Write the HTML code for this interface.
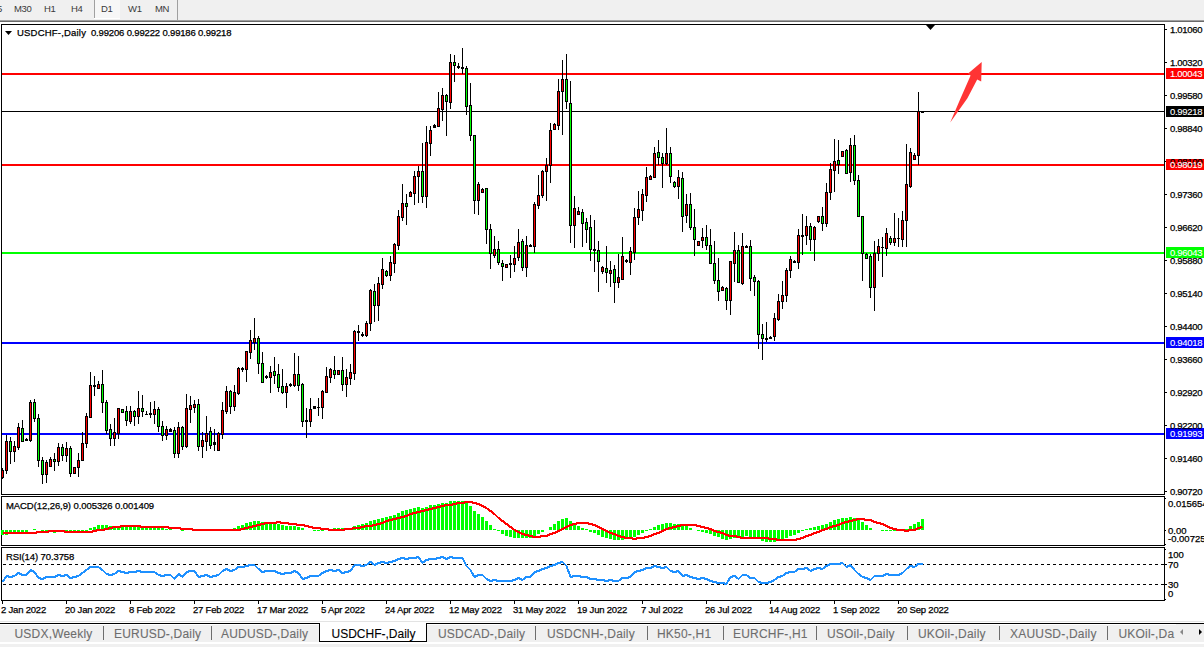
<!DOCTYPE html><html><head><meta charset="utf-8"><style>
html,body{margin:0;padding:0;width:1204px;height:647px;overflow:hidden;background:#fff}
.t{position:absolute;white-space:pre;font-family:"Liberation Sans", sans-serif;-webkit-text-stroke:0.25px currentColor}
svg{position:absolute;left:0;top:0}
</style></head><body>
<svg width="1204" height="647" shape-rendering="crispEdges"><rect x="0" y="0" width="1204" height="20" fill="#f0f0f0"/><rect x="0" y="20" width="1204" height="1" fill="#a0a0a0"/><rect x="0" y="21" width="1204" height="1" fill="#696969"/><rect x="94" y="0" width="1" height="18" fill="#a0a0a0"/><rect x="95" y="0" width="25" height="18" fill="#f7f7f7"/><rect x="94" y="18" width="26" height="1" fill="#ffffff"/><rect x="177" y="0" width="1" height="20" fill="#a0a0a0"/><rect x="1" y="24" width="1164" height="1" fill="#000"/><rect x="1" y="494" width="1164" height="1" fill="#000"/><rect x="1" y="24" width="1" height="471" fill="#000"/><rect x="1164" y="24" width="1" height="471" fill="#000"/><rect x="1" y="496" width="1164" height="1" fill="#000"/><rect x="1" y="545" width="1164" height="1" fill="#000"/><rect x="1" y="496" width="1" height="50" fill="#000"/><rect x="1164" y="496" width="1" height="50" fill="#000"/><rect x="1" y="547" width="1164" height="1" fill="#000"/><rect x="1" y="600" width="1164" height="1" fill="#000"/><rect x="1" y="547" width="1" height="54" fill="#000"/><rect x="1164" y="547" width="1" height="54" fill="#000"/><rect x="1165" y="29" width="2" height="1" fill="#000"/><rect x="1165" y="62" width="2" height="1" fill="#000"/><rect x="1165" y="95" width="2" height="1" fill="#000"/><rect x="1165" y="128" width="2" height="1" fill="#000"/><rect x="1165" y="161" width="2" height="1" fill="#000"/><rect x="1165" y="194" width="2" height="1" fill="#000"/><rect x="1165" y="227" width="2" height="1" fill="#000"/><rect x="1165" y="260" width="2" height="1" fill="#000"/><rect x="1165" y="293" width="2" height="1" fill="#000"/><rect x="1165" y="326" width="2" height="1" fill="#000"/><rect x="1165" y="359" width="2" height="1" fill="#000"/><rect x="1165" y="392" width="2" height="1" fill="#000"/><rect x="1165" y="425" width="2" height="1" fill="#000"/><rect x="1165" y="458" width="2" height="1" fill="#000"/><rect x="1165" y="491" width="2" height="1" fill="#000"/><rect x="2" y="73" width="1162" height="2" fill="#ff0000"/><rect x="2" y="111" width="1162" height="1" fill="#000000"/><rect x="2" y="164" width="1162" height="2" fill="#ff0000"/><rect x="2" y="252" width="1162" height="2" fill="#00ff00"/><rect x="2" y="342" width="1162" height="2" fill="#0000ff"/><rect x="2" y="433" width="1162" height="2" fill="#0000ff"/><rect x="2" y="468" width="1" height="11" fill="#000"/><rect x="1" y="470" width="3" height="8" fill="#000"/><rect x="2" y="471" width="1" height="6" fill="#ff0000"/><rect x="6" y="435" width="1" height="39" fill="#000"/><rect x="5" y="441" width="3" height="30" fill="#000"/><rect x="6" y="442" width="1" height="28" fill="#ff0000"/><rect x="10" y="437" width="1" height="27" fill="#000"/><rect x="9" y="441" width="3" height="11" fill="#000"/><rect x="10" y="442" width="1" height="9" fill="#00ff00"/><rect x="14" y="441" width="1" height="21" fill="#000"/><rect x="13" y="446" width="3" height="6" fill="#000"/><rect x="14" y="447" width="1" height="4" fill="#ff0000"/><rect x="18" y="423" width="1" height="27" fill="#000"/><rect x="17" y="427" width="3" height="21" fill="#000"/><rect x="18" y="428" width="1" height="19" fill="#ff0000"/><rect x="22" y="420" width="1" height="22" fill="#000"/><rect x="21" y="428" width="3" height="14" fill="#000"/><rect x="22" y="429" width="1" height="12" fill="#00ff00"/><rect x="26" y="438" width="1" height="3" fill="#000"/><rect x="25" y="439" width="3" height="2" fill="#000"/><rect x="30" y="400" width="1" height="42" fill="#000"/><rect x="29" y="402" width="3" height="39" fill="#000"/><rect x="30" y="403" width="1" height="37" fill="#ff0000"/><rect x="34" y="399" width="1" height="23" fill="#000"/><rect x="33" y="402" width="3" height="17" fill="#000"/><rect x="34" y="403" width="1" height="15" fill="#00ff00"/><rect x="38" y="414" width="1" height="53" fill="#000"/><rect x="37" y="418" width="3" height="43" fill="#000"/><rect x="38" y="419" width="1" height="41" fill="#00ff00"/><rect x="42" y="457" width="1" height="27" fill="#000"/><rect x="41" y="460" width="3" height="15" fill="#000"/><rect x="42" y="461" width="1" height="13" fill="#00ff00"/><rect x="46" y="460" width="1" height="23" fill="#000"/><rect x="45" y="462" width="3" height="13" fill="#000"/><rect x="46" y="463" width="1" height="11" fill="#ff0000"/><rect x="50" y="457" width="1" height="10" fill="#000"/><rect x="49" y="459" width="3" height="8" fill="#000"/><rect x="50" y="460" width="1" height="6" fill="#ff0000"/><rect x="54" y="453" width="1" height="18" fill="#000"/><rect x="53" y="459" width="3" height="3" fill="#000"/><rect x="54" y="460" width="1" height="1" fill="#00ff00"/><rect x="58" y="443" width="1" height="23" fill="#000"/><rect x="57" y="447" width="3" height="15" fill="#000"/><rect x="58" y="448" width="1" height="13" fill="#ff0000"/><rect x="62" y="444" width="1" height="17" fill="#000"/><rect x="61" y="447" width="3" height="9" fill="#000"/><rect x="62" y="448" width="1" height="7" fill="#00ff00"/><rect x="66" y="442" width="1" height="20" fill="#000"/><rect x="65" y="448" width="3" height="8" fill="#000"/><rect x="66" y="449" width="1" height="6" fill="#ff0000"/><rect x="70" y="446" width="1" height="31" fill="#000"/><rect x="69" y="448" width="3" height="26" fill="#000"/><rect x="70" y="449" width="1" height="24" fill="#00ff00"/><rect x="74" y="467" width="1" height="7" fill="#000"/><rect x="73" y="467" width="3" height="7" fill="#000"/><rect x="74" y="468" width="1" height="5" fill="#ff0000"/><rect x="78" y="453" width="1" height="24" fill="#000"/><rect x="77" y="460" width="3" height="8" fill="#000"/><rect x="78" y="461" width="1" height="6" fill="#ff0000"/><rect x="82" y="432" width="1" height="29" fill="#000"/><rect x="81" y="443" width="3" height="18" fill="#000"/><rect x="82" y="444" width="1" height="16" fill="#ff0000"/><rect x="86" y="413" width="1" height="35" fill="#000"/><rect x="85" y="416" width="3" height="28" fill="#000"/><rect x="86" y="417" width="1" height="26" fill="#ff0000"/><rect x="90" y="372" width="1" height="46" fill="#000"/><rect x="89" y="385" width="3" height="33" fill="#000"/><rect x="90" y="386" width="1" height="31" fill="#ff0000"/><rect x="94" y="376" width="1" height="20" fill="#000"/><rect x="93" y="385" width="3" height="2" fill="#000"/><rect x="98" y="381" width="1" height="8" fill="#000"/><rect x="97" y="384" width="3" height="5" fill="#000"/><rect x="98" y="385" width="1" height="3" fill="#ff0000"/><rect x="102" y="370" width="1" height="43" fill="#000"/><rect x="101" y="384" width="3" height="19" fill="#000"/><rect x="102" y="385" width="1" height="17" fill="#00ff00"/><rect x="106" y="400" width="1" height="34" fill="#000"/><rect x="105" y="402" width="3" height="29" fill="#000"/><rect x="106" y="403" width="1" height="27" fill="#00ff00"/><rect x="110" y="424" width="1" height="22" fill="#000"/><rect x="109" y="429" width="3" height="10" fill="#000"/><rect x="110" y="430" width="1" height="8" fill="#00ff00"/><rect x="114" y="418" width="1" height="28" fill="#000"/><rect x="113" y="432" width="3" height="7" fill="#000"/><rect x="114" y="433" width="1" height="5" fill="#ff0000"/><rect x="118" y="408" width="1" height="31" fill="#000"/><rect x="117" y="408" width="3" height="26" fill="#000"/><rect x="118" y="409" width="1" height="24" fill="#ff0000"/><rect x="122" y="409" width="1" height="4" fill="#000"/><rect x="121" y="409" width="3" height="4" fill="#000"/><rect x="122" y="410" width="1" height="2" fill="#00ff00"/><rect x="126" y="406" width="1" height="20" fill="#000"/><rect x="125" y="411" width="3" height="10" fill="#000"/><rect x="126" y="412" width="1" height="8" fill="#00ff00"/><rect x="130" y="406" width="1" height="18" fill="#000"/><rect x="129" y="411" width="3" height="11" fill="#000"/><rect x="130" y="412" width="1" height="9" fill="#ff0000"/><rect x="134" y="410" width="1" height="16" fill="#000"/><rect x="133" y="411" width="3" height="6" fill="#000"/><rect x="134" y="412" width="1" height="4" fill="#00ff00"/><rect x="138" y="391" width="1" height="33" fill="#000"/><rect x="137" y="408" width="3" height="9" fill="#000"/><rect x="138" y="409" width="1" height="7" fill="#ff0000"/><rect x="142" y="395" width="1" height="22" fill="#000"/><rect x="141" y="408" width="3" height="4" fill="#000"/><rect x="142" y="409" width="1" height="2" fill="#00ff00"/><rect x="146" y="411" width="1" height="4" fill="#000"/><rect x="145" y="414" width="3" height="1" fill="#000"/><rect x="150" y="402" width="1" height="16" fill="#000"/><rect x="149" y="413" width="3" height="2" fill="#000"/><rect x="154" y="401" width="1" height="23" fill="#000"/><rect x="153" y="409" width="3" height="6" fill="#000"/><rect x="154" y="410" width="1" height="4" fill="#ff0000"/><rect x="158" y="407" width="1" height="25" fill="#000"/><rect x="157" y="409" width="3" height="18" fill="#000"/><rect x="158" y="410" width="1" height="16" fill="#00ff00"/><rect x="162" y="421" width="1" height="20" fill="#000"/><rect x="161" y="426" width="3" height="10" fill="#000"/><rect x="162" y="427" width="1" height="8" fill="#00ff00"/><rect x="166" y="426" width="1" height="14" fill="#000"/><rect x="165" y="429" width="3" height="7" fill="#000"/><rect x="166" y="430" width="1" height="5" fill="#ff0000"/><rect x="170" y="428" width="1" height="4" fill="#000"/><rect x="169" y="429" width="3" height="3" fill="#000"/><rect x="174" y="427" width="1" height="31" fill="#000"/><rect x="173" y="430" width="3" height="24" fill="#000"/><rect x="174" y="431" width="1" height="22" fill="#00ff00"/><rect x="178" y="422" width="1" height="36" fill="#000"/><rect x="177" y="427" width="3" height="27" fill="#000"/><rect x="178" y="428" width="1" height="25" fill="#ff0000"/><rect x="182" y="426" width="1" height="24" fill="#000"/><rect x="181" y="427" width="3" height="20" fill="#000"/><rect x="182" y="428" width="1" height="18" fill="#00ff00"/><rect x="186" y="394" width="1" height="54" fill="#000"/><rect x="185" y="408" width="3" height="39" fill="#000"/><rect x="186" y="409" width="1" height="37" fill="#ff0000"/><rect x="190" y="396" width="1" height="27" fill="#000"/><rect x="189" y="405" width="3" height="5" fill="#000"/><rect x="190" y="406" width="1" height="3" fill="#ff0000"/><rect x="194" y="400" width="1" height="13" fill="#000"/><rect x="193" y="404" width="3" height="4" fill="#000"/><rect x="194" y="405" width="1" height="2" fill="#ff0000"/><rect x="198" y="399" width="1" height="52" fill="#000"/><rect x="197" y="404" width="3" height="43" fill="#000"/><rect x="198" y="405" width="1" height="41" fill="#00ff00"/><rect x="202" y="432" width="1" height="26" fill="#000"/><rect x="201" y="440" width="3" height="7" fill="#000"/><rect x="202" y="441" width="1" height="5" fill="#ff0000"/><rect x="206" y="416" width="1" height="35" fill="#000"/><rect x="205" y="433" width="3" height="9" fill="#000"/><rect x="206" y="434" width="1" height="7" fill="#ff0000"/><rect x="210" y="427" width="1" height="22" fill="#000"/><rect x="209" y="431" width="3" height="15" fill="#000"/><rect x="210" y="432" width="1" height="13" fill="#00ff00"/><rect x="214" y="429" width="1" height="22" fill="#000"/><rect x="213" y="442" width="3" height="3" fill="#000"/><rect x="218" y="432" width="1" height="19" fill="#000"/><rect x="217" y="433" width="3" height="18" fill="#000"/><rect x="218" y="434" width="1" height="16" fill="#ff0000"/><rect x="222" y="402" width="1" height="37" fill="#000"/><rect x="221" y="410" width="3" height="25" fill="#000"/><rect x="222" y="411" width="1" height="23" fill="#ff0000"/><rect x="226" y="386" width="1" height="28" fill="#000"/><rect x="225" y="391" width="3" height="21" fill="#000"/><rect x="226" y="392" width="1" height="19" fill="#ff0000"/><rect x="230" y="390" width="1" height="24" fill="#000"/><rect x="229" y="391" width="3" height="16" fill="#000"/><rect x="230" y="392" width="1" height="14" fill="#00ff00"/><rect x="234" y="385" width="1" height="26" fill="#000"/><rect x="233" y="392" width="3" height="15" fill="#000"/><rect x="234" y="393" width="1" height="13" fill="#ff0000"/><rect x="238" y="367" width="1" height="28" fill="#000"/><rect x="237" y="368" width="3" height="26" fill="#000"/><rect x="238" y="369" width="1" height="24" fill="#ff0000"/><rect x="242" y="367" width="1" height="5" fill="#000"/><rect x="241" y="368" width="3" height="2" fill="#000"/><rect x="246" y="351" width="1" height="31" fill="#000"/><rect x="245" y="351" width="3" height="19" fill="#000"/><rect x="246" y="352" width="1" height="17" fill="#ff0000"/><rect x="250" y="330" width="1" height="29" fill="#000"/><rect x="249" y="340" width="3" height="13" fill="#000"/><rect x="250" y="341" width="1" height="11" fill="#ff0000"/><rect x="254" y="318" width="1" height="32" fill="#000"/><rect x="253" y="338" width="3" height="5" fill="#000"/><rect x="254" y="339" width="1" height="3" fill="#ff0000"/><rect x="258" y="336" width="1" height="38" fill="#000"/><rect x="257" y="338" width="3" height="26" fill="#000"/><rect x="258" y="339" width="1" height="24" fill="#00ff00"/><rect x="262" y="352" width="1" height="31" fill="#000"/><rect x="261" y="363" width="3" height="20" fill="#000"/><rect x="262" y="364" width="1" height="18" fill="#00ff00"/><rect x="266" y="375" width="1" height="4" fill="#000"/><rect x="265" y="376" width="3" height="2" fill="#000"/><rect x="270" y="366" width="1" height="27" fill="#000"/><rect x="269" y="372" width="3" height="6" fill="#000"/><rect x="270" y="373" width="1" height="4" fill="#ff0000"/><rect x="274" y="357" width="1" height="27" fill="#000"/><rect x="273" y="371" width="3" height="5" fill="#000"/><rect x="274" y="372" width="1" height="3" fill="#00ff00"/><rect x="278" y="364" width="1" height="28" fill="#000"/><rect x="277" y="374" width="3" height="14" fill="#000"/><rect x="278" y="375" width="1" height="12" fill="#00ff00"/><rect x="282" y="369" width="1" height="25" fill="#000"/><rect x="281" y="386" width="3" height="7" fill="#000"/><rect x="282" y="387" width="1" height="5" fill="#00ff00"/><rect x="286" y="383" width="1" height="25" fill="#000"/><rect x="285" y="386" width="3" height="7" fill="#000"/><rect x="286" y="387" width="1" height="5" fill="#ff0000"/><rect x="290" y="383" width="1" height="4" fill="#000"/><rect x="289" y="384" width="3" height="2" fill="#000"/><rect x="294" y="353" width="1" height="34" fill="#000"/><rect x="293" y="374" width="3" height="12" fill="#000"/><rect x="294" y="375" width="1" height="10" fill="#ff0000"/><rect x="298" y="356" width="1" height="35" fill="#000"/><rect x="297" y="374" width="3" height="12" fill="#000"/><rect x="298" y="375" width="1" height="10" fill="#00ff00"/><rect x="302" y="383" width="1" height="44" fill="#000"/><rect x="301" y="384" width="3" height="38" fill="#000"/><rect x="302" y="385" width="1" height="36" fill="#00ff00"/><rect x="306" y="408" width="1" height="30" fill="#000"/><rect x="305" y="420" width="3" height="2" fill="#000"/><rect x="310" y="398" width="1" height="29" fill="#000"/><rect x="309" y="409" width="3" height="13" fill="#000"/><rect x="310" y="410" width="1" height="11" fill="#ff0000"/><rect x="314" y="406" width="1" height="3" fill="#000"/><rect x="313" y="406" width="3" height="3" fill="#000"/><rect x="318" y="398" width="1" height="18" fill="#000"/><rect x="317" y="407" width="3" height="1" fill="#000"/><rect x="322" y="390" width="1" height="29" fill="#000"/><rect x="321" y="391" width="3" height="17" fill="#000"/><rect x="322" y="392" width="1" height="15" fill="#ff0000"/><rect x="326" y="367" width="1" height="26" fill="#000"/><rect x="325" y="376" width="3" height="17" fill="#000"/><rect x="326" y="377" width="1" height="15" fill="#ff0000"/><rect x="330" y="368" width="1" height="15" fill="#000"/><rect x="329" y="369" width="3" height="9" fill="#000"/><rect x="330" y="370" width="1" height="7" fill="#ff0000"/><rect x="334" y="356" width="1" height="23" fill="#000"/><rect x="333" y="370" width="3" height="5" fill="#000"/><rect x="334" y="371" width="1" height="3" fill="#00ff00"/><rect x="338" y="370" width="1" height="5" fill="#000"/><rect x="337" y="370" width="3" height="5" fill="#000"/><rect x="338" y="371" width="1" height="3" fill="#ff0000"/><rect x="342" y="357" width="1" height="34" fill="#000"/><rect x="341" y="370" width="3" height="15" fill="#000"/><rect x="342" y="371" width="1" height="13" fill="#00ff00"/><rect x="346" y="369" width="1" height="28" fill="#000"/><rect x="345" y="377" width="3" height="8" fill="#000"/><rect x="346" y="378" width="1" height="6" fill="#ff0000"/><rect x="350" y="364" width="1" height="21" fill="#000"/><rect x="349" y="372" width="3" height="7" fill="#000"/><rect x="350" y="373" width="1" height="5" fill="#ff0000"/><rect x="354" y="330" width="1" height="50" fill="#000"/><rect x="353" y="331" width="3" height="43" fill="#000"/><rect x="354" y="332" width="1" height="41" fill="#ff0000"/><rect x="358" y="325" width="1" height="16" fill="#000"/><rect x="357" y="331" width="3" height="2" fill="#000"/><rect x="362" y="332" width="1" height="5" fill="#000"/><rect x="361" y="334" width="3" height="2" fill="#000"/><rect x="366" y="321" width="1" height="16" fill="#000"/><rect x="365" y="323" width="3" height="13" fill="#000"/><rect x="366" y="324" width="1" height="11" fill="#ff0000"/><rect x="370" y="289" width="1" height="42" fill="#000"/><rect x="369" y="290" width="3" height="34" fill="#000"/><rect x="370" y="291" width="1" height="32" fill="#ff0000"/><rect x="374" y="284" width="1" height="38" fill="#000"/><rect x="373" y="291" width="3" height="15" fill="#000"/><rect x="374" y="292" width="1" height="13" fill="#00ff00"/><rect x="378" y="277" width="1" height="44" fill="#000"/><rect x="377" y="283" width="3" height="23" fill="#000"/><rect x="378" y="284" width="1" height="21" fill="#ff0000"/><rect x="382" y="258" width="1" height="31" fill="#000"/><rect x="381" y="269" width="3" height="16" fill="#000"/><rect x="382" y="270" width="1" height="14" fill="#ff0000"/><rect x="386" y="270" width="1" height="7" fill="#000"/><rect x="385" y="271" width="3" height="5" fill="#000"/><rect x="386" y="272" width="1" height="3" fill="#00ff00"/><rect x="390" y="256" width="1" height="25" fill="#000"/><rect x="389" y="262" width="3" height="14" fill="#000"/><rect x="390" y="263" width="1" height="12" fill="#ff0000"/><rect x="394" y="243" width="1" height="30" fill="#000"/><rect x="393" y="244" width="3" height="20" fill="#000"/><rect x="394" y="245" width="1" height="18" fill="#ff0000"/><rect x="398" y="210" width="1" height="40" fill="#000"/><rect x="397" y="216" width="3" height="30" fill="#000"/><rect x="398" y="217" width="1" height="28" fill="#ff0000"/><rect x="402" y="184" width="1" height="37" fill="#000"/><rect x="401" y="203" width="3" height="15" fill="#000"/><rect x="402" y="204" width="1" height="13" fill="#ff0000"/><rect x="406" y="194" width="1" height="31" fill="#000"/><rect x="405" y="203" width="3" height="4" fill="#000"/><rect x="406" y="204" width="1" height="2" fill="#00ff00"/><rect x="410" y="191" width="1" height="6" fill="#000"/><rect x="409" y="192" width="3" height="5" fill="#000"/><rect x="410" y="193" width="1" height="3" fill="#ff0000"/><rect x="414" y="171" width="1" height="34" fill="#000"/><rect x="413" y="176" width="3" height="18" fill="#000"/><rect x="414" y="177" width="1" height="16" fill="#ff0000"/><rect x="418" y="166" width="1" height="37" fill="#000"/><rect x="417" y="171" width="3" height="6" fill="#000"/><rect x="418" y="172" width="1" height="4" fill="#ff0000"/><rect x="422" y="143" width="1" height="60" fill="#000"/><rect x="421" y="171" width="3" height="26" fill="#000"/><rect x="422" y="172" width="1" height="24" fill="#00ff00"/><rect x="426" y="126" width="1" height="82" fill="#000"/><rect x="425" y="142" width="3" height="55" fill="#000"/><rect x="426" y="143" width="1" height="53" fill="#ff0000"/><rect x="430" y="126" width="1" height="30" fill="#000"/><rect x="429" y="130" width="3" height="14" fill="#000"/><rect x="430" y="131" width="1" height="12" fill="#ff0000"/><rect x="434" y="124" width="1" height="4" fill="#000"/><rect x="433" y="125" width="3" height="3" fill="#000"/><rect x="438" y="92" width="1" height="35" fill="#000"/><rect x="437" y="108" width="3" height="19" fill="#000"/><rect x="438" y="109" width="1" height="17" fill="#ff0000"/><rect x="442" y="88" width="1" height="33" fill="#000"/><rect x="441" y="95" width="3" height="15" fill="#000"/><rect x="442" y="96" width="1" height="13" fill="#ff0000"/><rect x="446" y="94" width="1" height="42" fill="#000"/><rect x="445" y="95" width="3" height="7" fill="#000"/><rect x="446" y="96" width="1" height="5" fill="#00ff00"/><rect x="450" y="54" width="1" height="55" fill="#000"/><rect x="449" y="62" width="3" height="41" fill="#000"/><rect x="450" y="63" width="1" height="39" fill="#ff0000"/><rect x="454" y="55" width="1" height="27" fill="#000"/><rect x="453" y="62" width="3" height="4" fill="#000"/><rect x="454" y="63" width="1" height="2" fill="#00ff00"/><rect x="458" y="63" width="1" height="6" fill="#000"/><rect x="457" y="66" width="3" height="2" fill="#000"/><rect x="462" y="48" width="1" height="26" fill="#000"/><rect x="461" y="67" width="3" height="2" fill="#000"/><rect x="466" y="66" width="1" height="49" fill="#000"/><rect x="465" y="68" width="3" height="39" fill="#000"/><rect x="466" y="69" width="1" height="37" fill="#00ff00"/><rect x="470" y="83" width="1" height="58" fill="#000"/><rect x="469" y="105" width="3" height="31" fill="#000"/><rect x="470" y="106" width="1" height="29" fill="#00ff00"/><rect x="474" y="135" width="1" height="79" fill="#000"/><rect x="473" y="135" width="3" height="66" fill="#000"/><rect x="474" y="136" width="1" height="64" fill="#00ff00"/><rect x="478" y="182" width="1" height="33" fill="#000"/><rect x="477" y="184" width="3" height="17" fill="#000"/><rect x="478" y="185" width="1" height="15" fill="#ff0000"/><rect x="482" y="188" width="1" height="5" fill="#000"/><rect x="481" y="189" width="3" height="4" fill="#000"/><rect x="482" y="190" width="1" height="2" fill="#ff0000"/><rect x="486" y="188" width="1" height="56" fill="#000"/><rect x="485" y="188" width="3" height="42" fill="#000"/><rect x="486" y="189" width="1" height="40" fill="#00ff00"/><rect x="490" y="224" width="1" height="45" fill="#000"/><rect x="489" y="229" width="3" height="25" fill="#000"/><rect x="490" y="230" width="1" height="23" fill="#00ff00"/><rect x="494" y="236" width="1" height="22" fill="#000"/><rect x="493" y="249" width="3" height="7" fill="#000"/><rect x="494" y="250" width="1" height="5" fill="#ff0000"/><rect x="498" y="241" width="1" height="24" fill="#000"/><rect x="497" y="249" width="3" height="14" fill="#000"/><rect x="498" y="250" width="1" height="12" fill="#00ff00"/><rect x="502" y="260" width="1" height="21" fill="#000"/><rect x="501" y="263" width="3" height="4" fill="#000"/><rect x="502" y="264" width="1" height="2" fill="#00ff00"/><rect x="506" y="264" width="1" height="4" fill="#000"/><rect x="505" y="264" width="3" height="4" fill="#000"/><rect x="506" y="265" width="1" height="2" fill="#ff0000"/><rect x="510" y="255" width="1" height="23" fill="#000"/><rect x="509" y="263" width="3" height="2" fill="#000"/><rect x="514" y="246" width="1" height="26" fill="#000"/><rect x="513" y="258" width="3" height="7" fill="#000"/><rect x="514" y="259" width="1" height="5" fill="#ff0000"/><rect x="518" y="229" width="1" height="32" fill="#000"/><rect x="517" y="242" width="3" height="16" fill="#000"/><rect x="518" y="243" width="1" height="14" fill="#ff0000"/><rect x="522" y="239" width="1" height="32" fill="#000"/><rect x="521" y="241" width="3" height="27" fill="#000"/><rect x="522" y="242" width="1" height="25" fill="#00ff00"/><rect x="526" y="236" width="1" height="41" fill="#000"/><rect x="525" y="245" width="3" height="23" fill="#000"/><rect x="526" y="246" width="1" height="21" fill="#ff0000"/><rect x="530" y="244" width="1" height="3" fill="#000"/><rect x="529" y="245" width="3" height="2" fill="#000"/><rect x="534" y="202" width="1" height="51" fill="#000"/><rect x="533" y="204" width="3" height="43" fill="#000"/><rect x="534" y="205" width="1" height="41" fill="#ff0000"/><rect x="538" y="175" width="1" height="34" fill="#000"/><rect x="537" y="195" width="3" height="11" fill="#000"/><rect x="538" y="196" width="1" height="9" fill="#ff0000"/><rect x="542" y="170" width="1" height="28" fill="#000"/><rect x="541" y="171" width="3" height="25" fill="#000"/><rect x="542" y="172" width="1" height="23" fill="#ff0000"/><rect x="546" y="158" width="1" height="43" fill="#000"/><rect x="545" y="165" width="3" height="7" fill="#000"/><rect x="546" y="166" width="1" height="5" fill="#ff0000"/><rect x="550" y="123" width="1" height="60" fill="#000"/><rect x="549" y="130" width="3" height="36" fill="#000"/><rect x="550" y="131" width="1" height="34" fill="#ff0000"/><rect x="554" y="123" width="1" height="7" fill="#000"/><rect x="553" y="124" width="3" height="6" fill="#000"/><rect x="554" y="125" width="1" height="4" fill="#ff0000"/><rect x="558" y="79" width="1" height="51" fill="#000"/><rect x="557" y="91" width="3" height="35" fill="#000"/><rect x="558" y="92" width="1" height="33" fill="#ff0000"/><rect x="562" y="60" width="1" height="75" fill="#000"/><rect x="561" y="79" width="3" height="13" fill="#000"/><rect x="562" y="80" width="1" height="11" fill="#ff0000"/><rect x="566" y="54" width="1" height="55" fill="#000"/><rect x="565" y="79" width="3" height="23" fill="#000"/><rect x="566" y="80" width="1" height="21" fill="#00ff00"/><rect x="570" y="81" width="1" height="162" fill="#000"/><rect x="569" y="103" width="3" height="123" fill="#000"/><rect x="570" y="104" width="1" height="121" fill="#00ff00"/><rect x="574" y="196" width="1" height="52" fill="#000"/><rect x="573" y="208" width="3" height="18" fill="#000"/><rect x="574" y="209" width="1" height="16" fill="#ff0000"/><rect x="578" y="207" width="1" height="8" fill="#000"/><rect x="577" y="211" width="3" height="4" fill="#000"/><rect x="578" y="212" width="1" height="2" fill="#ff0000"/><rect x="582" y="209" width="1" height="38" fill="#000"/><rect x="581" y="212" width="3" height="12" fill="#000"/><rect x="582" y="213" width="1" height="10" fill="#00ff00"/><rect x="586" y="218" width="1" height="25" fill="#000"/><rect x="585" y="222" width="3" height="8" fill="#000"/><rect x="586" y="223" width="1" height="6" fill="#00ff00"/><rect x="590" y="215" width="1" height="46" fill="#000"/><rect x="589" y="227" width="3" height="23" fill="#000"/><rect x="590" y="228" width="1" height="21" fill="#00ff00"/><rect x="594" y="220" width="1" height="52" fill="#000"/><rect x="593" y="249" width="3" height="2" fill="#000"/><rect x="598" y="241" width="1" height="51" fill="#000"/><rect x="597" y="250" width="3" height="12" fill="#000"/><rect x="598" y="251" width="1" height="10" fill="#00ff00"/><rect x="602" y="266" width="1" height="8" fill="#000"/><rect x="601" y="267" width="3" height="5" fill="#000"/><rect x="602" y="268" width="1" height="3" fill="#ff0000"/><rect x="606" y="246" width="1" height="37" fill="#000"/><rect x="605" y="268" width="3" height="5" fill="#000"/><rect x="606" y="269" width="1" height="3" fill="#00ff00"/><rect x="610" y="261" width="1" height="26" fill="#000"/><rect x="609" y="270" width="3" height="4" fill="#000"/><rect x="610" y="271" width="1" height="2" fill="#ff0000"/><rect x="614" y="265" width="1" height="38" fill="#000"/><rect x="613" y="269" width="3" height="14" fill="#000"/><rect x="614" y="270" width="1" height="12" fill="#00ff00"/><rect x="618" y="254" width="1" height="34" fill="#000"/><rect x="617" y="277" width="3" height="6" fill="#000"/><rect x="618" y="278" width="1" height="4" fill="#ff0000"/><rect x="622" y="237" width="1" height="43" fill="#000"/><rect x="621" y="256" width="3" height="24" fill="#000"/><rect x="622" y="257" width="1" height="22" fill="#ff0000"/><rect x="626" y="259" width="1" height="4" fill="#000"/><rect x="625" y="260" width="3" height="2" fill="#000"/><rect x="630" y="247" width="1" height="28" fill="#000"/><rect x="629" y="251" width="3" height="12" fill="#000"/><rect x="630" y="252" width="1" height="10" fill="#ff0000"/><rect x="634" y="208" width="1" height="52" fill="#000"/><rect x="633" y="217" width="3" height="36" fill="#000"/><rect x="634" y="218" width="1" height="34" fill="#ff0000"/><rect x="638" y="191" width="1" height="34" fill="#000"/><rect x="637" y="209" width="3" height="9" fill="#000"/><rect x="638" y="210" width="1" height="7" fill="#ff0000"/><rect x="642" y="189" width="1" height="32" fill="#000"/><rect x="641" y="194" width="3" height="17" fill="#000"/><rect x="642" y="195" width="1" height="15" fill="#ff0000"/><rect x="646" y="167" width="1" height="35" fill="#000"/><rect x="645" y="177" width="3" height="19" fill="#000"/><rect x="646" y="178" width="1" height="17" fill="#ff0000"/><rect x="650" y="175" width="1" height="5" fill="#000"/><rect x="649" y="176" width="3" height="4" fill="#000"/><rect x="650" y="177" width="1" height="2" fill="#ff0000"/><rect x="654" y="147" width="1" height="31" fill="#000"/><rect x="653" y="153" width="3" height="25" fill="#000"/><rect x="654" y="154" width="1" height="23" fill="#ff0000"/><rect x="658" y="140" width="1" height="25" fill="#000"/><rect x="657" y="152" width="3" height="6" fill="#000"/><rect x="658" y="153" width="1" height="4" fill="#00ff00"/><rect x="662" y="153" width="1" height="35" fill="#000"/><rect x="661" y="157" width="3" height="7" fill="#000"/><rect x="662" y="158" width="1" height="5" fill="#00ff00"/><rect x="666" y="128" width="1" height="37" fill="#000"/><rect x="665" y="153" width="3" height="11" fill="#000"/><rect x="666" y="154" width="1" height="9" fill="#ff0000"/><rect x="670" y="147" width="1" height="36" fill="#000"/><rect x="669" y="153" width="3" height="24" fill="#000"/><rect x="670" y="154" width="1" height="22" fill="#00ff00"/><rect x="674" y="181" width="1" height="7" fill="#000"/><rect x="673" y="182" width="3" height="5" fill="#000"/><rect x="674" y="183" width="1" height="3" fill="#00ff00"/><rect x="678" y="170" width="1" height="29" fill="#000"/><rect x="677" y="177" width="3" height="10" fill="#000"/><rect x="678" y="178" width="1" height="8" fill="#ff0000"/><rect x="682" y="172" width="1" height="60" fill="#000"/><rect x="681" y="178" width="3" height="39" fill="#000"/><rect x="682" y="179" width="1" height="37" fill="#00ff00"/><rect x="686" y="194" width="1" height="29" fill="#000"/><rect x="685" y="204" width="3" height="12" fill="#000"/><rect x="686" y="205" width="1" height="10" fill="#ff0000"/><rect x="690" y="193" width="1" height="37" fill="#000"/><rect x="689" y="204" width="3" height="24" fill="#000"/><rect x="690" y="205" width="1" height="22" fill="#00ff00"/><rect x="694" y="209" width="1" height="47" fill="#000"/><rect x="693" y="227" width="3" height="13" fill="#000"/><rect x="694" y="228" width="1" height="11" fill="#00ff00"/><rect x="698" y="241" width="1" height="5" fill="#000"/><rect x="697" y="241" width="3" height="5" fill="#000"/><rect x="698" y="242" width="1" height="3" fill="#ff0000"/><rect x="702" y="228" width="1" height="20" fill="#000"/><rect x="701" y="237" width="3" height="4" fill="#000"/><rect x="702" y="238" width="1" height="2" fill="#ff0000"/><rect x="706" y="225" width="1" height="25" fill="#000"/><rect x="705" y="237" width="3" height="9" fill="#000"/><rect x="706" y="238" width="1" height="7" fill="#00ff00"/><rect x="710" y="229" width="1" height="35" fill="#000"/><rect x="709" y="245" width="3" height="19" fill="#000"/><rect x="710" y="246" width="1" height="17" fill="#00ff00"/><rect x="714" y="241" width="1" height="43" fill="#000"/><rect x="713" y="263" width="3" height="18" fill="#000"/><rect x="714" y="264" width="1" height="16" fill="#00ff00"/><rect x="718" y="258" width="1" height="43" fill="#000"/><rect x="717" y="280" width="3" height="12" fill="#000"/><rect x="718" y="281" width="1" height="10" fill="#00ff00"/><rect x="722" y="286" width="1" height="5" fill="#000"/><rect x="721" y="287" width="3" height="4" fill="#000"/><rect x="722" y="288" width="1" height="2" fill="#ff0000"/><rect x="726" y="287" width="1" height="23" fill="#000"/><rect x="725" y="288" width="3" height="13" fill="#000"/><rect x="726" y="289" width="1" height="11" fill="#00ff00"/><rect x="730" y="261" width="1" height="54" fill="#000"/><rect x="729" y="261" width="3" height="40" fill="#000"/><rect x="730" y="262" width="1" height="38" fill="#ff0000"/><rect x="734" y="232" width="1" height="50" fill="#000"/><rect x="733" y="250" width="3" height="14" fill="#000"/><rect x="734" y="251" width="1" height="12" fill="#ff0000"/><rect x="738" y="245" width="1" height="38" fill="#000"/><rect x="737" y="250" width="3" height="33" fill="#000"/><rect x="738" y="251" width="1" height="31" fill="#00ff00"/><rect x="742" y="233" width="1" height="52" fill="#000"/><rect x="741" y="246" width="3" height="38" fill="#000"/><rect x="742" y="247" width="1" height="36" fill="#ff0000"/><rect x="746" y="245" width="1" height="3" fill="#000"/><rect x="745" y="246" width="3" height="2" fill="#000"/><rect x="750" y="240" width="1" height="51" fill="#000"/><rect x="749" y="246" width="3" height="33" fill="#000"/><rect x="750" y="247" width="1" height="31" fill="#00ff00"/><rect x="754" y="275" width="1" height="21" fill="#000"/><rect x="753" y="277" width="3" height="5" fill="#000"/><rect x="754" y="278" width="1" height="3" fill="#00ff00"/><rect x="758" y="280" width="1" height="69" fill="#000"/><rect x="757" y="281" width="3" height="54" fill="#000"/><rect x="758" y="282" width="1" height="52" fill="#00ff00"/><rect x="762" y="324" width="1" height="36" fill="#000"/><rect x="761" y="334" width="3" height="5" fill="#000"/><rect x="762" y="335" width="1" height="3" fill="#00ff00"/><rect x="766" y="322" width="1" height="20" fill="#000"/><rect x="765" y="338" width="3" height="2" fill="#000"/><rect x="770" y="336" width="1" height="3" fill="#000"/><rect x="769" y="337" width="3" height="2" fill="#000"/><rect x="774" y="313" width="1" height="28" fill="#000"/><rect x="773" y="318" width="3" height="19" fill="#000"/><rect x="774" y="319" width="1" height="17" fill="#ff0000"/><rect x="778" y="294" width="1" height="27" fill="#000"/><rect x="777" y="301" width="3" height="19" fill="#000"/><rect x="778" y="302" width="1" height="17" fill="#ff0000"/><rect x="782" y="281" width="1" height="28" fill="#000"/><rect x="781" y="295" width="3" height="7" fill="#000"/><rect x="782" y="296" width="1" height="5" fill="#ff0000"/><rect x="786" y="268" width="1" height="34" fill="#000"/><rect x="785" y="270" width="3" height="26" fill="#000"/><rect x="786" y="271" width="1" height="24" fill="#ff0000"/><rect x="790" y="256" width="1" height="22" fill="#000"/><rect x="789" y="259" width="3" height="12" fill="#000"/><rect x="790" y="260" width="1" height="10" fill="#ff0000"/><rect x="794" y="260" width="1" height="3" fill="#000"/><rect x="793" y="261" width="3" height="2" fill="#000"/><rect x="798" y="229" width="1" height="40" fill="#000"/><rect x="797" y="235" width="3" height="28" fill="#000"/><rect x="798" y="236" width="1" height="26" fill="#ff0000"/><rect x="802" y="214" width="1" height="41" fill="#000"/><rect x="801" y="235" width="3" height="2" fill="#000"/><rect x="806" y="216" width="1" height="29" fill="#000"/><rect x="805" y="226" width="3" height="10" fill="#000"/><rect x="806" y="227" width="1" height="8" fill="#ff0000"/><rect x="810" y="223" width="1" height="28" fill="#000"/><rect x="809" y="226" width="3" height="14" fill="#000"/><rect x="810" y="227" width="1" height="12" fill="#00ff00"/><rect x="814" y="226" width="1" height="35" fill="#000"/><rect x="813" y="227" width="3" height="13" fill="#000"/><rect x="814" y="228" width="1" height="11" fill="#ff0000"/><rect x="818" y="216" width="1" height="7" fill="#000"/><rect x="817" y="216" width="3" height="6" fill="#000"/><rect x="818" y="217" width="1" height="4" fill="#ff0000"/><rect x="822" y="207" width="1" height="24" fill="#000"/><rect x="821" y="216" width="3" height="8" fill="#000"/><rect x="822" y="217" width="1" height="6" fill="#00ff00"/><rect x="826" y="183" width="1" height="44" fill="#000"/><rect x="825" y="192" width="3" height="32" fill="#000"/><rect x="826" y="193" width="1" height="30" fill="#ff0000"/><rect x="830" y="163" width="1" height="37" fill="#000"/><rect x="829" y="169" width="3" height="24" fill="#000"/><rect x="830" y="170" width="1" height="22" fill="#ff0000"/><rect x="834" y="139" width="1" height="53" fill="#000"/><rect x="833" y="161" width="3" height="10" fill="#000"/><rect x="834" y="162" width="1" height="8" fill="#ff0000"/><rect x="838" y="140" width="1" height="34" fill="#000"/><rect x="837" y="160" width="3" height="5" fill="#000"/><rect x="838" y="161" width="1" height="3" fill="#00ff00"/><rect x="842" y="151" width="1" height="6" fill="#000"/><rect x="841" y="151" width="3" height="6" fill="#000"/><rect x="842" y="152" width="1" height="4" fill="#ff0000"/><rect x="846" y="149" width="1" height="25" fill="#000"/><rect x="845" y="150" width="3" height="24" fill="#000"/><rect x="846" y="151" width="1" height="22" fill="#00ff00"/><rect x="850" y="138" width="1" height="44" fill="#000"/><rect x="849" y="145" width="3" height="28" fill="#000"/><rect x="850" y="146" width="1" height="26" fill="#ff0000"/><rect x="854" y="135" width="1" height="50" fill="#000"/><rect x="853" y="145" width="3" height="36" fill="#000"/><rect x="854" y="146" width="1" height="34" fill="#00ff00"/><rect x="858" y="175" width="1" height="42" fill="#000"/><rect x="857" y="180" width="3" height="37" fill="#000"/><rect x="858" y="181" width="1" height="35" fill="#00ff00"/><rect x="862" y="216" width="1" height="65" fill="#000"/><rect x="861" y="216" width="3" height="38" fill="#000"/><rect x="862" y="217" width="1" height="36" fill="#00ff00"/><rect x="866" y="253" width="1" height="6" fill="#000"/><rect x="865" y="254" width="3" height="5" fill="#000"/><rect x="866" y="255" width="1" height="3" fill="#00ff00"/><rect x="870" y="254" width="1" height="44" fill="#000"/><rect x="869" y="256" width="3" height="32" fill="#000"/><rect x="870" y="257" width="1" height="30" fill="#00ff00"/><rect x="874" y="241" width="1" height="70" fill="#000"/><rect x="873" y="253" width="3" height="35" fill="#000"/><rect x="874" y="254" width="1" height="33" fill="#ff0000"/><rect x="878" y="239" width="1" height="22" fill="#000"/><rect x="877" y="246" width="3" height="8" fill="#000"/><rect x="878" y="247" width="1" height="6" fill="#ff0000"/><rect x="882" y="237" width="1" height="40" fill="#000"/><rect x="881" y="247" width="3" height="1" fill="#000"/><rect x="886" y="228" width="1" height="28" fill="#000"/><rect x="885" y="233" width="3" height="16" fill="#000"/><rect x="886" y="234" width="1" height="14" fill="#ff0000"/><rect x="890" y="236" width="1" height="9" fill="#000"/><rect x="889" y="238" width="3" height="5" fill="#000"/><rect x="890" y="239" width="1" height="3" fill="#00ff00"/><rect x="894" y="213" width="1" height="33" fill="#000"/><rect x="893" y="238" width="3" height="5" fill="#000"/><rect x="894" y="239" width="1" height="3" fill="#ff0000"/><rect x="898" y="218" width="1" height="29" fill="#000"/><rect x="897" y="238" width="3" height="1" fill="#000"/><rect x="902" y="211" width="1" height="36" fill="#000"/><rect x="901" y="220" width="3" height="20" fill="#000"/><rect x="902" y="221" width="1" height="18" fill="#ff0000"/><rect x="906" y="144" width="1" height="103" fill="#000"/><rect x="905" y="184" width="3" height="37" fill="#000"/><rect x="906" y="185" width="1" height="35" fill="#ff0000"/><rect x="910" y="148" width="1" height="40" fill="#000"/><rect x="909" y="152" width="3" height="35" fill="#000"/><rect x="910" y="153" width="1" height="33" fill="#ff0000"/><rect x="914" y="153" width="1" height="7" fill="#000"/><rect x="913" y="155" width="3" height="5" fill="#000"/><rect x="914" y="156" width="1" height="3" fill="#ff0000"/><rect x="918" y="92" width="1" height="73" fill="#000"/><rect x="917" y="111" width="3" height="45" fill="#000"/><rect x="918" y="112" width="1" height="43" fill="#ff0000"/><rect x="922" y="111" width="1" height="2" fill="#000"/><rect x="921" y="111" width="3" height="2" fill="#000"/><rect x="1" y="530" width="3" height="5" fill="#00ff00"/><rect x="5" y="530" width="3" height="5" fill="#00ff00"/><rect x="9" y="530" width="3" height="4" fill="#00ff00"/><rect x="13" y="530" width="3" height="4" fill="#00ff00"/><rect x="17" y="530" width="3" height="3" fill="#00ff00"/><rect x="21" y="530" width="3" height="2" fill="#00ff00"/><rect x="25" y="530" width="3" height="2" fill="#00ff00"/><rect x="29" y="530" width="3" height="0" fill="#00ff00"/><rect x="33" y="529" width="3" height="1" fill="#00ff00"/><rect x="37" y="530" width="3" height="0" fill="#00ff00"/><rect x="41" y="530" width="3" height="2" fill="#00ff00"/><rect x="45" y="530" width="3" height="2" fill="#00ff00"/><rect x="49" y="530" width="3" height="2" fill="#00ff00"/><rect x="53" y="530" width="3" height="3" fill="#00ff00"/><rect x="57" y="530" width="3" height="2" fill="#00ff00"/><rect x="61" y="530" width="3" height="2" fill="#00ff00"/><rect x="65" y="530" width="3" height="2" fill="#00ff00"/><rect x="69" y="530" width="3" height="3" fill="#00ff00"/><rect x="73" y="530" width="3" height="3" fill="#00ff00"/><rect x="77" y="530" width="3" height="3" fill="#00ff00"/><rect x="81" y="530" width="3" height="2" fill="#00ff00"/><rect x="85" y="530" width="3" height="1" fill="#00ff00"/><rect x="89" y="528" width="3" height="2" fill="#00ff00"/><rect x="93" y="527" width="3" height="3" fill="#00ff00"/><rect x="97" y="525" width="3" height="5" fill="#00ff00"/><rect x="101" y="525" width="3" height="5" fill="#00ff00"/><rect x="105" y="525" width="3" height="5" fill="#00ff00"/><rect x="109" y="526" width="3" height="4" fill="#00ff00"/><rect x="113" y="527" width="3" height="3" fill="#00ff00"/><rect x="117" y="527" width="3" height="3" fill="#00ff00"/><rect x="121" y="526" width="3" height="4" fill="#00ff00"/><rect x="125" y="527" width="3" height="3" fill="#00ff00"/><rect x="129" y="527" width="3" height="3" fill="#00ff00"/><rect x="133" y="527" width="3" height="3" fill="#00ff00"/><rect x="137" y="527" width="3" height="3" fill="#00ff00"/><rect x="141" y="527" width="3" height="3" fill="#00ff00"/><rect x="145" y="527" width="3" height="3" fill="#00ff00"/><rect x="149" y="527" width="3" height="3" fill="#00ff00"/><rect x="153" y="527" width="3" height="3" fill="#00ff00"/><rect x="157" y="528" width="3" height="2" fill="#00ff00"/><rect x="161" y="528" width="3" height="2" fill="#00ff00"/><rect x="165" y="529" width="3" height="1" fill="#00ff00"/><rect x="169" y="529" width="3" height="1" fill="#00ff00"/><rect x="173" y="530" width="3" height="0" fill="#00ff00"/><rect x="177" y="530" width="3" height="0" fill="#00ff00"/><rect x="181" y="530" width="3" height="1" fill="#00ff00"/><rect x="185" y="530" width="3" height="0" fill="#00ff00"/><rect x="189" y="529" width="3" height="1" fill="#00ff00"/><rect x="193" y="529" width="3" height="1" fill="#00ff00"/><rect x="197" y="530" width="3" height="0" fill="#00ff00"/><rect x="201" y="530" width="3" height="0" fill="#00ff00"/><rect x="205" y="530" width="3" height="1" fill="#00ff00"/><rect x="209" y="530" width="3" height="1" fill="#00ff00"/><rect x="213" y="530" width="3" height="1" fill="#00ff00"/><rect x="217" y="530" width="3" height="1" fill="#00ff00"/><rect x="221" y="530" width="3" height="1" fill="#00ff00"/><rect x="225" y="529" width="3" height="1" fill="#00ff00"/><rect x="229" y="529" width="3" height="1" fill="#00ff00"/><rect x="233" y="528" width="3" height="2" fill="#00ff00"/><rect x="237" y="526" width="3" height="4" fill="#00ff00"/><rect x="241" y="525" width="3" height="5" fill="#00ff00"/><rect x="245" y="523" width="3" height="7" fill="#00ff00"/><rect x="249" y="522" width="3" height="8" fill="#00ff00"/><rect x="253" y="521" width="3" height="9" fill="#00ff00"/><rect x="257" y="521" width="3" height="9" fill="#00ff00"/><rect x="261" y="522" width="3" height="8" fill="#00ff00"/><rect x="265" y="522" width="3" height="8" fill="#00ff00"/><rect x="269" y="523" width="3" height="7" fill="#00ff00"/><rect x="273" y="523" width="3" height="7" fill="#00ff00"/><rect x="277" y="524" width="3" height="6" fill="#00ff00"/><rect x="281" y="525" width="3" height="5" fill="#00ff00"/><rect x="285" y="526" width="3" height="4" fill="#00ff00"/><rect x="289" y="526" width="3" height="4" fill="#00ff00"/><rect x="293" y="526" width="3" height="4" fill="#00ff00"/><rect x="297" y="527" width="3" height="3" fill="#00ff00"/><rect x="301" y="528" width="3" height="2" fill="#00ff00"/><rect x="305" y="530" width="3" height="0" fill="#00ff00"/><rect x="309" y="530" width="3" height="0" fill="#00ff00"/><rect x="313" y="530" width="3" height="1" fill="#00ff00"/><rect x="317" y="530" width="3" height="1" fill="#00ff00"/><rect x="321" y="530" width="3" height="1" fill="#00ff00"/><rect x="325" y="530" width="3" height="0" fill="#00ff00"/><rect x="329" y="529" width="3" height="1" fill="#00ff00"/><rect x="333" y="528" width="3" height="2" fill="#00ff00"/><rect x="337" y="528" width="3" height="2" fill="#00ff00"/><rect x="341" y="528" width="3" height="2" fill="#00ff00"/><rect x="345" y="528" width="3" height="2" fill="#00ff00"/><rect x="349" y="528" width="3" height="2" fill="#00ff00"/><rect x="353" y="526" width="3" height="4" fill="#00ff00"/><rect x="357" y="525" width="3" height="5" fill="#00ff00"/><rect x="361" y="524" width="3" height="6" fill="#00ff00"/><rect x="365" y="523" width="3" height="7" fill="#00ff00"/><rect x="369" y="521" width="3" height="9" fill="#00ff00"/><rect x="373" y="520" width="3" height="10" fill="#00ff00"/><rect x="377" y="519" width="3" height="11" fill="#00ff00"/><rect x="381" y="518" width="3" height="12" fill="#00ff00"/><rect x="385" y="517" width="3" height="13" fill="#00ff00"/><rect x="389" y="516" width="3" height="14" fill="#00ff00"/><rect x="393" y="515" width="3" height="15" fill="#00ff00"/><rect x="397" y="513" width="3" height="17" fill="#00ff00"/><rect x="401" y="511" width="3" height="19" fill="#00ff00"/><rect x="405" y="510" width="3" height="20" fill="#00ff00"/><rect x="409" y="509" width="3" height="21" fill="#00ff00"/><rect x="413" y="508" width="3" height="22" fill="#00ff00"/><rect x="417" y="507" width="3" height="23" fill="#00ff00"/><rect x="421" y="508" width="3" height="22" fill="#00ff00"/><rect x="425" y="507" width="3" height="23" fill="#00ff00"/><rect x="429" y="505" width="3" height="25" fill="#00ff00"/><rect x="433" y="505" width="3" height="25" fill="#00ff00"/><rect x="437" y="504" width="3" height="26" fill="#00ff00"/><rect x="441" y="503" width="3" height="27" fill="#00ff00"/><rect x="445" y="503" width="3" height="27" fill="#00ff00"/><rect x="449" y="501" width="3" height="29" fill="#00ff00"/><rect x="453" y="501" width="3" height="29" fill="#00ff00"/><rect x="457" y="501" width="3" height="29" fill="#00ff00"/><rect x="461" y="501" width="3" height="29" fill="#00ff00"/><rect x="465" y="503" width="3" height="27" fill="#00ff00"/><rect x="469" y="506" width="3" height="24" fill="#00ff00"/><rect x="473" y="511" width="3" height="19" fill="#00ff00"/><rect x="477" y="514" width="3" height="16" fill="#00ff00"/><rect x="481" y="517" width="3" height="13" fill="#00ff00"/><rect x="485" y="521" width="3" height="9" fill="#00ff00"/><rect x="489" y="525" width="3" height="5" fill="#00ff00"/><rect x="493" y="529" width="3" height="1" fill="#00ff00"/><rect x="497" y="530" width="3" height="1" fill="#00ff00"/><rect x="501" y="530" width="3" height="4" fill="#00ff00"/><rect x="505" y="530" width="3" height="6" fill="#00ff00"/><rect x="509" y="530" width="3" height="7" fill="#00ff00"/><rect x="513" y="530" width="3" height="8" fill="#00ff00"/><rect x="517" y="530" width="3" height="8" fill="#00ff00"/><rect x="521" y="530" width="3" height="8" fill="#00ff00"/><rect x="525" y="530" width="3" height="8" fill="#00ff00"/><rect x="529" y="530" width="3" height="8" fill="#00ff00"/><rect x="533" y="530" width="3" height="6" fill="#00ff00"/><rect x="537" y="530" width="3" height="4" fill="#00ff00"/><rect x="541" y="530" width="3" height="2" fill="#00ff00"/><rect x="545" y="530" width="3" height="0" fill="#00ff00"/><rect x="549" y="527" width="3" height="3" fill="#00ff00"/><rect x="553" y="524" width="3" height="6" fill="#00ff00"/><rect x="557" y="521" width="3" height="9" fill="#00ff00"/><rect x="561" y="519" width="3" height="11" fill="#00ff00"/><rect x="565" y="518" width="3" height="12" fill="#00ff00"/><rect x="569" y="521" width="3" height="9" fill="#00ff00"/><rect x="573" y="524" width="3" height="6" fill="#00ff00"/><rect x="577" y="526" width="3" height="4" fill="#00ff00"/><rect x="581" y="528" width="3" height="2" fill="#00ff00"/><rect x="585" y="529" width="3" height="1" fill="#00ff00"/><rect x="589" y="530" width="3" height="2" fill="#00ff00"/><rect x="593" y="530" width="3" height="3" fill="#00ff00"/><rect x="597" y="530" width="3" height="5" fill="#00ff00"/><rect x="601" y="530" width="3" height="7" fill="#00ff00"/><rect x="605" y="530" width="3" height="8" fill="#00ff00"/><rect x="609" y="530" width="3" height="9" fill="#00ff00"/><rect x="613" y="530" width="3" height="10" fill="#00ff00"/><rect x="617" y="530" width="3" height="10" fill="#00ff00"/><rect x="621" y="530" width="3" height="10" fill="#00ff00"/><rect x="625" y="530" width="3" height="9" fill="#00ff00"/><rect x="629" y="530" width="3" height="9" fill="#00ff00"/><rect x="633" y="530" width="3" height="7" fill="#00ff00"/><rect x="637" y="530" width="3" height="5" fill="#00ff00"/><rect x="641" y="530" width="3" height="3" fill="#00ff00"/><rect x="645" y="530" width="3" height="1" fill="#00ff00"/><rect x="649" y="529" width="3" height="1" fill="#00ff00"/><rect x="653" y="527" width="3" height="3" fill="#00ff00"/><rect x="657" y="525" width="3" height="5" fill="#00ff00"/><rect x="661" y="524" width="3" height="6" fill="#00ff00"/><rect x="665" y="523" width="3" height="7" fill="#00ff00"/><rect x="669" y="523" width="3" height="7" fill="#00ff00"/><rect x="673" y="524" width="3" height="6" fill="#00ff00"/><rect x="677" y="524" width="3" height="6" fill="#00ff00"/><rect x="681" y="525" width="3" height="5" fill="#00ff00"/><rect x="685" y="526" width="3" height="4" fill="#00ff00"/><rect x="689" y="528" width="3" height="2" fill="#00ff00"/><rect x="693" y="530" width="3" height="0" fill="#00ff00"/><rect x="697" y="530" width="3" height="1" fill="#00ff00"/><rect x="701" y="530" width="3" height="2" fill="#00ff00"/><rect x="705" y="530" width="3" height="3" fill="#00ff00"/><rect x="709" y="530" width="3" height="4" fill="#00ff00"/><rect x="713" y="530" width="3" height="6" fill="#00ff00"/><rect x="717" y="530" width="3" height="7" fill="#00ff00"/><rect x="721" y="530" width="3" height="9" fill="#00ff00"/><rect x="725" y="530" width="3" height="10" fill="#00ff00"/><rect x="729" y="530" width="3" height="9" fill="#00ff00"/><rect x="733" y="530" width="3" height="8" fill="#00ff00"/><rect x="737" y="530" width="3" height="8" fill="#00ff00"/><rect x="741" y="530" width="3" height="7" fill="#00ff00"/><rect x="745" y="530" width="3" height="6" fill="#00ff00"/><rect x="749" y="530" width="3" height="7" fill="#00ff00"/><rect x="753" y="530" width="3" height="7" fill="#00ff00"/><rect x="757" y="530" width="3" height="9" fill="#00ff00"/><rect x="761" y="530" width="3" height="11" fill="#00ff00"/><rect x="765" y="530" width="3" height="12" fill="#00ff00"/><rect x="769" y="530" width="3" height="12" fill="#00ff00"/><rect x="773" y="530" width="3" height="12" fill="#00ff00"/><rect x="777" y="530" width="3" height="11" fill="#00ff00"/><rect x="781" y="530" width="3" height="10" fill="#00ff00"/><rect x="785" y="530" width="3" height="8" fill="#00ff00"/><rect x="789" y="530" width="3" height="6" fill="#00ff00"/><rect x="793" y="530" width="3" height="5" fill="#00ff00"/><rect x="797" y="530" width="3" height="3" fill="#00ff00"/><rect x="801" y="530" width="3" height="1" fill="#00ff00"/><rect x="805" y="529" width="3" height="1" fill="#00ff00"/><rect x="809" y="528" width="3" height="2" fill="#00ff00"/><rect x="813" y="527" width="3" height="3" fill="#00ff00"/><rect x="817" y="526" width="3" height="4" fill="#00ff00"/><rect x="821" y="525" width="3" height="5" fill="#00ff00"/><rect x="825" y="524" width="3" height="6" fill="#00ff00"/><rect x="829" y="522" width="3" height="8" fill="#00ff00"/><rect x="833" y="520" width="3" height="10" fill="#00ff00"/><rect x="837" y="519" width="3" height="11" fill="#00ff00"/><rect x="841" y="518" width="3" height="12" fill="#00ff00"/><rect x="845" y="518" width="3" height="12" fill="#00ff00"/><rect x="849" y="517" width="3" height="13" fill="#00ff00"/><rect x="853" y="518" width="3" height="12" fill="#00ff00"/><rect x="857" y="520" width="3" height="10" fill="#00ff00"/><rect x="861" y="522" width="3" height="8" fill="#00ff00"/><rect x="865" y="525" width="3" height="5" fill="#00ff00"/><rect x="869" y="528" width="3" height="2" fill="#00ff00"/><rect x="873" y="530" width="3" height="0" fill="#00ff00"/><rect x="877" y="530" width="3" height="0" fill="#00ff00"/><rect x="881" y="530" width="3" height="1" fill="#00ff00"/><rect x="885" y="530" width="3" height="1" fill="#00ff00"/><rect x="889" y="530" width="3" height="1" fill="#00ff00"/><rect x="893" y="530" width="3" height="1" fill="#00ff00"/><rect x="897" y="530" width="3" height="1" fill="#00ff00"/><rect x="901" y="530" width="3" height="1" fill="#00ff00"/><rect x="905" y="529" width="3" height="1" fill="#00ff00"/><rect x="909" y="526" width="3" height="4" fill="#00ff00"/><rect x="913" y="524" width="3" height="6" fill="#00ff00"/><rect x="917" y="522" width="3" height="8" fill="#00ff00"/><rect x="921" y="519" width="3" height="11" fill="#00ff00"/><polyline points="2.5,533 6.5,533 10.5,533 14.5,533 18.5,533 22.5,533 26.5,533 30.5,533 34.5,533 38.5,532 42.5,532 46.5,532 50.5,531 54.5,531 58.5,531 62.5,531 66.5,532 70.5,532 74.5,532 78.5,532 82.5,532 86.5,532 90.5,532 94.5,531 98.5,530 102.5,530 106.5,529 110.5,528 114.5,527 118.5,527 122.5,526 126.5,526 130.5,526 134.5,526 138.5,526 142.5,527 146.5,527 150.5,527 154.5,527 158.5,527 162.5,527 166.5,527 170.5,528 174.5,528 178.5,528 182.5,529 186.5,529 190.5,529 194.5,530 198.5,530 202.5,530 206.5,530 210.5,530 214.5,530 218.5,530 222.5,530 226.5,530 230.5,530 234.5,530 238.5,530 242.5,529 246.5,528 250.5,527 254.5,526 258.5,525 262.5,524 266.5,523 270.5,523 274.5,523 278.5,522 282.5,523 286.5,523 290.5,524 294.5,524 298.5,525 302.5,525 306.5,526 310.5,527 314.5,528 318.5,528 322.5,529 326.5,529 330.5,530 334.5,530 338.5,530 342.5,530 346.5,529 350.5,529 354.5,528 358.5,528 362.5,527 366.5,526 370.5,526 374.5,525 378.5,524 382.5,523 386.5,521 390.5,520 394.5,519 398.5,518 402.5,517 406.5,516 410.5,514 414.5,513 418.5,512 422.5,511 426.5,510 430.5,509 434.5,508 438.5,507 442.5,506 446.5,505 450.5,505 454.5,504 458.5,503 462.5,503 466.5,502 470.5,502 474.5,503 478.5,504 482.5,506 486.5,508 490.5,511 494.5,514 498.5,518 502.5,521 506.5,524 510.5,527 514.5,530 518.5,532 522.5,534 526.5,535 530.5,536 534.5,537 538.5,537 542.5,536 546.5,536 550.5,534 554.5,533 558.5,531 562.5,529 566.5,527 570.5,525 574.5,524 578.5,523 582.5,523 586.5,523 590.5,524 594.5,525 598.5,527 602.5,529 606.5,531 610.5,533 614.5,534 618.5,536 622.5,537 626.5,538 630.5,538 634.5,539 638.5,538 642.5,538 646.5,537 650.5,536 654.5,534 658.5,533 662.5,531 666.5,529 670.5,528 674.5,527 678.5,526 682.5,525 686.5,525 690.5,525 694.5,525 698.5,526 702.5,527 706.5,528 710.5,529 714.5,531 718.5,532 722.5,533 726.5,535 730.5,536 734.5,536 738.5,537 742.5,538 746.5,538 750.5,538 754.5,538 758.5,538 762.5,538 766.5,538 770.5,539 774.5,539 778.5,540 782.5,540 786.5,540 790.5,540 794.5,540 798.5,539 802.5,538 806.5,536 810.5,535 814.5,533 818.5,532 822.5,530 826.5,529 830.5,527 834.5,526 838.5,525 842.5,523 846.5,522 850.5,521 854.5,520 858.5,519 862.5,519 866.5,520 870.5,520 874.5,522 878.5,523 882.5,524 886.5,526 890.5,528 894.5,529 898.5,530 902.5,530 906.5,531 910.5,530 914.5,530 918.5,528 922.5,527" fill="none" stroke="#ff0000" stroke-width="2" shape-rendering="crispEdges"/><rect x="3" y="564" width="3" height="1" fill="#000"/><rect x="3" y="584" width="3" height="1" fill="#000"/><rect x="9" y="564" width="3" height="1" fill="#000"/><rect x="9" y="584" width="3" height="1" fill="#000"/><rect x="15" y="564" width="3" height="1" fill="#000"/><rect x="15" y="584" width="3" height="1" fill="#000"/><rect x="21" y="564" width="3" height="1" fill="#000"/><rect x="21" y="584" width="3" height="1" fill="#000"/><rect x="27" y="564" width="3" height="1" fill="#000"/><rect x="27" y="584" width="3" height="1" fill="#000"/><rect x="33" y="564" width="3" height="1" fill="#000"/><rect x="33" y="584" width="3" height="1" fill="#000"/><rect x="39" y="564" width="3" height="1" fill="#000"/><rect x="39" y="584" width="3" height="1" fill="#000"/><rect x="45" y="564" width="3" height="1" fill="#000"/><rect x="45" y="584" width="3" height="1" fill="#000"/><rect x="51" y="564" width="3" height="1" fill="#000"/><rect x="51" y="584" width="3" height="1" fill="#000"/><rect x="57" y="564" width="3" height="1" fill="#000"/><rect x="57" y="584" width="3" height="1" fill="#000"/><rect x="63" y="564" width="3" height="1" fill="#000"/><rect x="63" y="584" width="3" height="1" fill="#000"/><rect x="69" y="564" width="3" height="1" fill="#000"/><rect x="69" y="584" width="3" height="1" fill="#000"/><rect x="75" y="564" width="3" height="1" fill="#000"/><rect x="75" y="584" width="3" height="1" fill="#000"/><rect x="81" y="564" width="3" height="1" fill="#000"/><rect x="81" y="584" width="3" height="1" fill="#000"/><rect x="87" y="564" width="3" height="1" fill="#000"/><rect x="87" y="584" width="3" height="1" fill="#000"/><rect x="93" y="564" width="3" height="1" fill="#000"/><rect x="93" y="584" width="3" height="1" fill="#000"/><rect x="99" y="564" width="3" height="1" fill="#000"/><rect x="99" y="584" width="3" height="1" fill="#000"/><rect x="105" y="564" width="3" height="1" fill="#000"/><rect x="105" y="584" width="3" height="1" fill="#000"/><rect x="111" y="564" width="3" height="1" fill="#000"/><rect x="111" y="584" width="3" height="1" fill="#000"/><rect x="117" y="564" width="3" height="1" fill="#000"/><rect x="117" y="584" width="3" height="1" fill="#000"/><rect x="123" y="564" width="3" height="1" fill="#000"/><rect x="123" y="584" width="3" height="1" fill="#000"/><rect x="129" y="564" width="3" height="1" fill="#000"/><rect x="129" y="584" width="3" height="1" fill="#000"/><rect x="135" y="564" width="3" height="1" fill="#000"/><rect x="135" y="584" width="3" height="1" fill="#000"/><rect x="141" y="564" width="3" height="1" fill="#000"/><rect x="141" y="584" width="3" height="1" fill="#000"/><rect x="147" y="564" width="3" height="1" fill="#000"/><rect x="147" y="584" width="3" height="1" fill="#000"/><rect x="153" y="564" width="3" height="1" fill="#000"/><rect x="153" y="584" width="3" height="1" fill="#000"/><rect x="159" y="564" width="3" height="1" fill="#000"/><rect x="159" y="584" width="3" height="1" fill="#000"/><rect x="165" y="564" width="3" height="1" fill="#000"/><rect x="165" y="584" width="3" height="1" fill="#000"/><rect x="171" y="564" width="3" height="1" fill="#000"/><rect x="171" y="584" width="3" height="1" fill="#000"/><rect x="177" y="564" width="3" height="1" fill="#000"/><rect x="177" y="584" width="3" height="1" fill="#000"/><rect x="183" y="564" width="3" height="1" fill="#000"/><rect x="183" y="584" width="3" height="1" fill="#000"/><rect x="189" y="564" width="3" height="1" fill="#000"/><rect x="189" y="584" width="3" height="1" fill="#000"/><rect x="195" y="564" width="3" height="1" fill="#000"/><rect x="195" y="584" width="3" height="1" fill="#000"/><rect x="201" y="564" width="3" height="1" fill="#000"/><rect x="201" y="584" width="3" height="1" fill="#000"/><rect x="207" y="564" width="3" height="1" fill="#000"/><rect x="207" y="584" width="3" height="1" fill="#000"/><rect x="213" y="564" width="3" height="1" fill="#000"/><rect x="213" y="584" width="3" height="1" fill="#000"/><rect x="219" y="564" width="3" height="1" fill="#000"/><rect x="219" y="584" width="3" height="1" fill="#000"/><rect x="225" y="564" width="3" height="1" fill="#000"/><rect x="225" y="584" width="3" height="1" fill="#000"/><rect x="231" y="564" width="3" height="1" fill="#000"/><rect x="231" y="584" width="3" height="1" fill="#000"/><rect x="237" y="564" width="3" height="1" fill="#000"/><rect x="237" y="584" width="3" height="1" fill="#000"/><rect x="243" y="564" width="3" height="1" fill="#000"/><rect x="243" y="584" width="3" height="1" fill="#000"/><rect x="249" y="564" width="3" height="1" fill="#000"/><rect x="249" y="584" width="3" height="1" fill="#000"/><rect x="255" y="564" width="3" height="1" fill="#000"/><rect x="255" y="584" width="3" height="1" fill="#000"/><rect x="261" y="564" width="3" height="1" fill="#000"/><rect x="261" y="584" width="3" height="1" fill="#000"/><rect x="267" y="564" width="3" height="1" fill="#000"/><rect x="267" y="584" width="3" height="1" fill="#000"/><rect x="273" y="564" width="3" height="1" fill="#000"/><rect x="273" y="584" width="3" height="1" fill="#000"/><rect x="279" y="564" width="3" height="1" fill="#000"/><rect x="279" y="584" width="3" height="1" fill="#000"/><rect x="285" y="564" width="3" height="1" fill="#000"/><rect x="285" y="584" width="3" height="1" fill="#000"/><rect x="291" y="564" width="3" height="1" fill="#000"/><rect x="291" y="584" width="3" height="1" fill="#000"/><rect x="297" y="564" width="3" height="1" fill="#000"/><rect x="297" y="584" width="3" height="1" fill="#000"/><rect x="303" y="564" width="3" height="1" fill="#000"/><rect x="303" y="584" width="3" height="1" fill="#000"/><rect x="309" y="564" width="3" height="1" fill="#000"/><rect x="309" y="584" width="3" height="1" fill="#000"/><rect x="315" y="564" width="3" height="1" fill="#000"/><rect x="315" y="584" width="3" height="1" fill="#000"/><rect x="321" y="564" width="3" height="1" fill="#000"/><rect x="321" y="584" width="3" height="1" fill="#000"/><rect x="327" y="564" width="3" height="1" fill="#000"/><rect x="327" y="584" width="3" height="1" fill="#000"/><rect x="333" y="564" width="3" height="1" fill="#000"/><rect x="333" y="584" width="3" height="1" fill="#000"/><rect x="339" y="564" width="3" height="1" fill="#000"/><rect x="339" y="584" width="3" height="1" fill="#000"/><rect x="345" y="564" width="3" height="1" fill="#000"/><rect x="345" y="584" width="3" height="1" fill="#000"/><rect x="351" y="564" width="3" height="1" fill="#000"/><rect x="351" y="584" width="3" height="1" fill="#000"/><rect x="357" y="564" width="3" height="1" fill="#000"/><rect x="357" y="584" width="3" height="1" fill="#000"/><rect x="363" y="564" width="3" height="1" fill="#000"/><rect x="363" y="584" width="3" height="1" fill="#000"/><rect x="369" y="564" width="3" height="1" fill="#000"/><rect x="369" y="584" width="3" height="1" fill="#000"/><rect x="375" y="564" width="3" height="1" fill="#000"/><rect x="375" y="584" width="3" height="1" fill="#000"/><rect x="381" y="564" width="3" height="1" fill="#000"/><rect x="381" y="584" width="3" height="1" fill="#000"/><rect x="387" y="564" width="3" height="1" fill="#000"/><rect x="387" y="584" width="3" height="1" fill="#000"/><rect x="393" y="564" width="3" height="1" fill="#000"/><rect x="393" y="584" width="3" height="1" fill="#000"/><rect x="399" y="564" width="3" height="1" fill="#000"/><rect x="399" y="584" width="3" height="1" fill="#000"/><rect x="405" y="564" width="3" height="1" fill="#000"/><rect x="405" y="584" width="3" height="1" fill="#000"/><rect x="411" y="564" width="3" height="1" fill="#000"/><rect x="411" y="584" width="3" height="1" fill="#000"/><rect x="417" y="564" width="3" height="1" fill="#000"/><rect x="417" y="584" width="3" height="1" fill="#000"/><rect x="423" y="564" width="3" height="1" fill="#000"/><rect x="423" y="584" width="3" height="1" fill="#000"/><rect x="429" y="564" width="3" height="1" fill="#000"/><rect x="429" y="584" width="3" height="1" fill="#000"/><rect x="435" y="564" width="3" height="1" fill="#000"/><rect x="435" y="584" width="3" height="1" fill="#000"/><rect x="441" y="564" width="3" height="1" fill="#000"/><rect x="441" y="584" width="3" height="1" fill="#000"/><rect x="447" y="564" width="3" height="1" fill="#000"/><rect x="447" y="584" width="3" height="1" fill="#000"/><rect x="453" y="564" width="3" height="1" fill="#000"/><rect x="453" y="584" width="3" height="1" fill="#000"/><rect x="459" y="564" width="3" height="1" fill="#000"/><rect x="459" y="584" width="3" height="1" fill="#000"/><rect x="465" y="564" width="3" height="1" fill="#000"/><rect x="465" y="584" width="3" height="1" fill="#000"/><rect x="471" y="564" width="3" height="1" fill="#000"/><rect x="471" y="584" width="3" height="1" fill="#000"/><rect x="477" y="564" width="3" height="1" fill="#000"/><rect x="477" y="584" width="3" height="1" fill="#000"/><rect x="483" y="564" width="3" height="1" fill="#000"/><rect x="483" y="584" width="3" height="1" fill="#000"/><rect x="489" y="564" width="3" height="1" fill="#000"/><rect x="489" y="584" width="3" height="1" fill="#000"/><rect x="495" y="564" width="3" height="1" fill="#000"/><rect x="495" y="584" width="3" height="1" fill="#000"/><rect x="501" y="564" width="3" height="1" fill="#000"/><rect x="501" y="584" width="3" height="1" fill="#000"/><rect x="507" y="564" width="3" height="1" fill="#000"/><rect x="507" y="584" width="3" height="1" fill="#000"/><rect x="513" y="564" width="3" height="1" fill="#000"/><rect x="513" y="584" width="3" height="1" fill="#000"/><rect x="519" y="564" width="3" height="1" fill="#000"/><rect x="519" y="584" width="3" height="1" fill="#000"/><rect x="525" y="564" width="3" height="1" fill="#000"/><rect x="525" y="584" width="3" height="1" fill="#000"/><rect x="531" y="564" width="3" height="1" fill="#000"/><rect x="531" y="584" width="3" height="1" fill="#000"/><rect x="537" y="564" width="3" height="1" fill="#000"/><rect x="537" y="584" width="3" height="1" fill="#000"/><rect x="543" y="564" width="3" height="1" fill="#000"/><rect x="543" y="584" width="3" height="1" fill="#000"/><rect x="549" y="564" width="3" height="1" fill="#000"/><rect x="549" y="584" width="3" height="1" fill="#000"/><rect x="555" y="564" width="3" height="1" fill="#000"/><rect x="555" y="584" width="3" height="1" fill="#000"/><rect x="561" y="564" width="3" height="1" fill="#000"/><rect x="561" y="584" width="3" height="1" fill="#000"/><rect x="567" y="564" width="3" height="1" fill="#000"/><rect x="567" y="584" width="3" height="1" fill="#000"/><rect x="573" y="564" width="3" height="1" fill="#000"/><rect x="573" y="584" width="3" height="1" fill="#000"/><rect x="579" y="564" width="3" height="1" fill="#000"/><rect x="579" y="584" width="3" height="1" fill="#000"/><rect x="585" y="564" width="3" height="1" fill="#000"/><rect x="585" y="584" width="3" height="1" fill="#000"/><rect x="591" y="564" width="3" height="1" fill="#000"/><rect x="591" y="584" width="3" height="1" fill="#000"/><rect x="597" y="564" width="3" height="1" fill="#000"/><rect x="597" y="584" width="3" height="1" fill="#000"/><rect x="603" y="564" width="3" height="1" fill="#000"/><rect x="603" y="584" width="3" height="1" fill="#000"/><rect x="609" y="564" width="3" height="1" fill="#000"/><rect x="609" y="584" width="3" height="1" fill="#000"/><rect x="615" y="564" width="3" height="1" fill="#000"/><rect x="615" y="584" width="3" height="1" fill="#000"/><rect x="621" y="564" width="3" height="1" fill="#000"/><rect x="621" y="584" width="3" height="1" fill="#000"/><rect x="627" y="564" width="3" height="1" fill="#000"/><rect x="627" y="584" width="3" height="1" fill="#000"/><rect x="633" y="564" width="3" height="1" fill="#000"/><rect x="633" y="584" width="3" height="1" fill="#000"/><rect x="639" y="564" width="3" height="1" fill="#000"/><rect x="639" y="584" width="3" height="1" fill="#000"/><rect x="645" y="564" width="3" height="1" fill="#000"/><rect x="645" y="584" width="3" height="1" fill="#000"/><rect x="651" y="564" width="3" height="1" fill="#000"/><rect x="651" y="584" width="3" height="1" fill="#000"/><rect x="657" y="564" width="3" height="1" fill="#000"/><rect x="657" y="584" width="3" height="1" fill="#000"/><rect x="663" y="564" width="3" height="1" fill="#000"/><rect x="663" y="584" width="3" height="1" fill="#000"/><rect x="669" y="564" width="3" height="1" fill="#000"/><rect x="669" y="584" width="3" height="1" fill="#000"/><rect x="675" y="564" width="3" height="1" fill="#000"/><rect x="675" y="584" width="3" height="1" fill="#000"/><rect x="681" y="564" width="3" height="1" fill="#000"/><rect x="681" y="584" width="3" height="1" fill="#000"/><rect x="687" y="564" width="3" height="1" fill="#000"/><rect x="687" y="584" width="3" height="1" fill="#000"/><rect x="693" y="564" width="3" height="1" fill="#000"/><rect x="693" y="584" width="3" height="1" fill="#000"/><rect x="699" y="564" width="3" height="1" fill="#000"/><rect x="699" y="584" width="3" height="1" fill="#000"/><rect x="705" y="564" width="3" height="1" fill="#000"/><rect x="705" y="584" width="3" height="1" fill="#000"/><rect x="711" y="564" width="3" height="1" fill="#000"/><rect x="711" y="584" width="3" height="1" fill="#000"/><rect x="717" y="564" width="3" height="1" fill="#000"/><rect x="717" y="584" width="3" height="1" fill="#000"/><rect x="723" y="564" width="3" height="1" fill="#000"/><rect x="723" y="584" width="3" height="1" fill="#000"/><rect x="729" y="564" width="3" height="1" fill="#000"/><rect x="729" y="584" width="3" height="1" fill="#000"/><rect x="735" y="564" width="3" height="1" fill="#000"/><rect x="735" y="584" width="3" height="1" fill="#000"/><rect x="741" y="564" width="3" height="1" fill="#000"/><rect x="741" y="584" width="3" height="1" fill="#000"/><rect x="747" y="564" width="3" height="1" fill="#000"/><rect x="747" y="584" width="3" height="1" fill="#000"/><rect x="753" y="564" width="3" height="1" fill="#000"/><rect x="753" y="584" width="3" height="1" fill="#000"/><rect x="759" y="564" width="3" height="1" fill="#000"/><rect x="759" y="584" width="3" height="1" fill="#000"/><rect x="765" y="564" width="3" height="1" fill="#000"/><rect x="765" y="584" width="3" height="1" fill="#000"/><rect x="771" y="564" width="3" height="1" fill="#000"/><rect x="771" y="584" width="3" height="1" fill="#000"/><rect x="777" y="564" width="3" height="1" fill="#000"/><rect x="777" y="584" width="3" height="1" fill="#000"/><rect x="783" y="564" width="3" height="1" fill="#000"/><rect x="783" y="584" width="3" height="1" fill="#000"/><rect x="789" y="564" width="3" height="1" fill="#000"/><rect x="789" y="584" width="3" height="1" fill="#000"/><rect x="795" y="564" width="3" height="1" fill="#000"/><rect x="795" y="584" width="3" height="1" fill="#000"/><rect x="801" y="564" width="3" height="1" fill="#000"/><rect x="801" y="584" width="3" height="1" fill="#000"/><rect x="807" y="564" width="3" height="1" fill="#000"/><rect x="807" y="584" width="3" height="1" fill="#000"/><rect x="813" y="564" width="3" height="1" fill="#000"/><rect x="813" y="584" width="3" height="1" fill="#000"/><rect x="819" y="564" width="3" height="1" fill="#000"/><rect x="819" y="584" width="3" height="1" fill="#000"/><rect x="825" y="564" width="3" height="1" fill="#000"/><rect x="825" y="584" width="3" height="1" fill="#000"/><rect x="831" y="564" width="3" height="1" fill="#000"/><rect x="831" y="584" width="3" height="1" fill="#000"/><rect x="837" y="564" width="3" height="1" fill="#000"/><rect x="837" y="584" width="3" height="1" fill="#000"/><rect x="843" y="564" width="3" height="1" fill="#000"/><rect x="843" y="584" width="3" height="1" fill="#000"/><rect x="849" y="564" width="3" height="1" fill="#000"/><rect x="849" y="584" width="3" height="1" fill="#000"/><rect x="855" y="564" width="3" height="1" fill="#000"/><rect x="855" y="584" width="3" height="1" fill="#000"/><rect x="861" y="564" width="3" height="1" fill="#000"/><rect x="861" y="584" width="3" height="1" fill="#000"/><rect x="867" y="564" width="3" height="1" fill="#000"/><rect x="867" y="584" width="3" height="1" fill="#000"/><rect x="873" y="564" width="3" height="1" fill="#000"/><rect x="873" y="584" width="3" height="1" fill="#000"/><rect x="879" y="564" width="3" height="1" fill="#000"/><rect x="879" y="584" width="3" height="1" fill="#000"/><rect x="885" y="564" width="3" height="1" fill="#000"/><rect x="885" y="584" width="3" height="1" fill="#000"/><rect x="891" y="564" width="3" height="1" fill="#000"/><rect x="891" y="584" width="3" height="1" fill="#000"/><rect x="897" y="564" width="3" height="1" fill="#000"/><rect x="897" y="584" width="3" height="1" fill="#000"/><rect x="903" y="564" width="3" height="1" fill="#000"/><rect x="903" y="584" width="3" height="1" fill="#000"/><rect x="909" y="564" width="3" height="1" fill="#000"/><rect x="909" y="584" width="3" height="1" fill="#000"/><rect x="915" y="564" width="3" height="1" fill="#000"/><rect x="915" y="584" width="3" height="1" fill="#000"/><rect x="921" y="564" width="3" height="1" fill="#000"/><rect x="921" y="584" width="3" height="1" fill="#000"/><rect x="927" y="564" width="3" height="1" fill="#000"/><rect x="927" y="584" width="3" height="1" fill="#000"/><rect x="933" y="564" width="3" height="1" fill="#000"/><rect x="933" y="584" width="3" height="1" fill="#000"/><rect x="939" y="564" width="3" height="1" fill="#000"/><rect x="939" y="584" width="3" height="1" fill="#000"/><rect x="945" y="564" width="3" height="1" fill="#000"/><rect x="945" y="584" width="3" height="1" fill="#000"/><rect x="951" y="564" width="3" height="1" fill="#000"/><rect x="951" y="584" width="3" height="1" fill="#000"/><rect x="957" y="564" width="3" height="1" fill="#000"/><rect x="957" y="584" width="3" height="1" fill="#000"/><rect x="963" y="564" width="3" height="1" fill="#000"/><rect x="963" y="584" width="3" height="1" fill="#000"/><rect x="969" y="564" width="3" height="1" fill="#000"/><rect x="969" y="584" width="3" height="1" fill="#000"/><rect x="975" y="564" width="3" height="1" fill="#000"/><rect x="975" y="584" width="3" height="1" fill="#000"/><rect x="981" y="564" width="3" height="1" fill="#000"/><rect x="981" y="584" width="3" height="1" fill="#000"/><rect x="987" y="564" width="3" height="1" fill="#000"/><rect x="987" y="584" width="3" height="1" fill="#000"/><rect x="993" y="564" width="3" height="1" fill="#000"/><rect x="993" y="584" width="3" height="1" fill="#000"/><rect x="999" y="564" width="3" height="1" fill="#000"/><rect x="999" y="584" width="3" height="1" fill="#000"/><rect x="1005" y="564" width="3" height="1" fill="#000"/><rect x="1005" y="584" width="3" height="1" fill="#000"/><rect x="1011" y="564" width="3" height="1" fill="#000"/><rect x="1011" y="584" width="3" height="1" fill="#000"/><rect x="1017" y="564" width="3" height="1" fill="#000"/><rect x="1017" y="584" width="3" height="1" fill="#000"/><rect x="1023" y="564" width="3" height="1" fill="#000"/><rect x="1023" y="584" width="3" height="1" fill="#000"/><rect x="1029" y="564" width="3" height="1" fill="#000"/><rect x="1029" y="584" width="3" height="1" fill="#000"/><rect x="1035" y="564" width="3" height="1" fill="#000"/><rect x="1035" y="584" width="3" height="1" fill="#000"/><rect x="1041" y="564" width="3" height="1" fill="#000"/><rect x="1041" y="584" width="3" height="1" fill="#000"/><rect x="1047" y="564" width="3" height="1" fill="#000"/><rect x="1047" y="584" width="3" height="1" fill="#000"/><rect x="1053" y="564" width="3" height="1" fill="#000"/><rect x="1053" y="584" width="3" height="1" fill="#000"/><rect x="1059" y="564" width="3" height="1" fill="#000"/><rect x="1059" y="584" width="3" height="1" fill="#000"/><rect x="1065" y="564" width="3" height="1" fill="#000"/><rect x="1065" y="584" width="3" height="1" fill="#000"/><rect x="1071" y="564" width="3" height="1" fill="#000"/><rect x="1071" y="584" width="3" height="1" fill="#000"/><rect x="1077" y="564" width="3" height="1" fill="#000"/><rect x="1077" y="584" width="3" height="1" fill="#000"/><rect x="1083" y="564" width="3" height="1" fill="#000"/><rect x="1083" y="584" width="3" height="1" fill="#000"/><rect x="1089" y="564" width="3" height="1" fill="#000"/><rect x="1089" y="584" width="3" height="1" fill="#000"/><rect x="1095" y="564" width="3" height="1" fill="#000"/><rect x="1095" y="584" width="3" height="1" fill="#000"/><rect x="1101" y="564" width="3" height="1" fill="#000"/><rect x="1101" y="584" width="3" height="1" fill="#000"/><rect x="1107" y="564" width="3" height="1" fill="#000"/><rect x="1107" y="584" width="3" height="1" fill="#000"/><rect x="1113" y="564" width="3" height="1" fill="#000"/><rect x="1113" y="584" width="3" height="1" fill="#000"/><rect x="1119" y="564" width="3" height="1" fill="#000"/><rect x="1119" y="584" width="3" height="1" fill="#000"/><rect x="1125" y="564" width="3" height="1" fill="#000"/><rect x="1125" y="584" width="3" height="1" fill="#000"/><rect x="1131" y="564" width="3" height="1" fill="#000"/><rect x="1131" y="584" width="3" height="1" fill="#000"/><rect x="1137" y="564" width="3" height="1" fill="#000"/><rect x="1137" y="584" width="3" height="1" fill="#000"/><rect x="1143" y="564" width="3" height="1" fill="#000"/><rect x="1143" y="584" width="3" height="1" fill="#000"/><rect x="1149" y="564" width="3" height="1" fill="#000"/><rect x="1149" y="584" width="3" height="1" fill="#000"/><rect x="1155" y="564" width="3" height="1" fill="#000"/><rect x="1155" y="584" width="3" height="1" fill="#000"/><rect x="1161" y="564" width="3" height="1" fill="#000"/><rect x="1161" y="584" width="3" height="1" fill="#000"/><polyline points="2.5,582 6.5,576 10.5,577 14.5,576 18.5,573 22.5,575 26.5,575 30.5,570 34.5,572 38.5,578 42.5,579 46.5,577 50.5,577 54.5,577 58.5,575 62.5,576 66.5,575 70.5,578 74.5,577 78.5,576 82.5,573 86.5,570 90.5,567 94.5,567 98.5,567 102.5,570 106.5,574 110.5,575 114.5,574 118.5,571 122.5,572 126.5,573 130.5,572 134.5,572 138.5,571 142.5,572 146.5,572 150.5,572 154.5,572 158.5,575 162.5,576 166.5,575 170.5,575 174.5,579 178.5,574 182.5,577 186.5,572 190.5,571 194.5,571 198.5,577 202.5,576 206.5,575 210.5,577 214.5,576 218.5,575 222.5,571 226.5,569 230.5,571 234.5,570 238.5,567 242.5,567 246.5,566 250.5,565 254.5,565 258.5,569 262.5,572 266.5,571 270.5,571 274.5,571 278.5,573 282.5,574 286.5,573 290.5,573 294.5,571 298.5,573 302.5,579 306.5,578 310.5,576 314.5,576 318.5,576 322.5,573 326.5,571 330.5,570 334.5,571 338.5,570 342.5,573 346.5,572 350.5,571 354.5,565 358.5,565 362.5,566 366.5,565 370.5,562 374.5,565 378.5,563 382.5,562 386.5,563 390.5,562 394.5,561 398.5,559 402.5,558 406.5,559 410.5,558 414.5,558 418.5,557 422.5,563 426.5,560 430.5,559 434.5,559 438.5,558 442.5,557 446.5,559 450.5,557 454.5,558 458.5,558 462.5,558 466.5,566 470.5,570 474.5,577 478.5,575 482.5,575 486.5,579 490.5,581 494.5,580 498.5,581 502.5,581 506.5,581 510.5,581 514.5,580 518.5,578 522.5,580 526.5,577 530.5,577 534.5,572 538.5,571 542.5,569 546.5,568 550.5,566 554.5,565 558.5,563 562.5,562 566.5,566 570.5,577 574.5,576 578.5,576 582.5,577 586.5,577 590.5,579 594.5,579 598.5,580 602.5,580 606.5,581 610.5,580 614.5,581 618.5,581 622.5,578 626.5,578 630.5,577 634.5,572 638.5,571 642.5,570 646.5,568 650.5,568 654.5,566 658.5,567 662.5,568 666.5,567 670.5,571 674.5,572 678.5,571 682.5,576 686.5,575 690.5,577 694.5,578 698.5,579 702.5,578 706.5,579 710.5,581 714.5,582 718.5,583 722.5,583 726.5,584 730.5,577 734.5,576 738.5,579 742.5,575 746.5,575 750.5,578 754.5,578 758.5,582 762.5,583 766.5,583 770.5,582 774.5,580 778.5,577 782.5,576 786.5,573 790.5,572 794.5,572 798.5,569 802.5,569 806.5,568 810.5,571 814.5,569 818.5,568 822.5,569 826.5,566 830.5,564 834.5,564 838.5,564 842.5,563 846.5,567 850.5,565 854.5,570 858.5,574 862.5,577 866.5,578 870.5,580 874.5,576 878.5,576 882.5,576 886.5,574 890.5,575 894.5,575 898.5,575 902.5,573 906.5,569 910.5,566 914.5,567 918.5,564 922.5,564" fill="none" stroke="#1e90ff" stroke-width="2" shape-rendering="crispEdges"/><rect x="1165" y="498" width="1" height="1" fill="#000"/><rect x="1165" y="530" width="1" height="1" fill="#000"/><rect x="1165" y="544" width="1" height="1" fill="#000"/><rect x="1165" y="549" width="1" height="1" fill="#000"/><rect x="1165" y="564" width="2" height="1" fill="#000"/><rect x="1165" y="584" width="2" height="1" fill="#000"/><rect x="1165" y="599" width="1" height="1" fill="#000"/><rect x="1166" y="68" width="38" height="11" fill="#ff0000"/><rect x="1166" y="106" width="38" height="11" fill="#000000"/><rect x="1166" y="159" width="38" height="11" fill="#ff0000"/><rect x="1166" y="247" width="38" height="11" fill="#00ff00"/><rect x="1166" y="337" width="38" height="11" fill="#0000ff"/><rect x="1166" y="428" width="38" height="11" fill="#0000ff"/><rect x="2" y="601" width="1" height="3" fill="#000"/><rect x="66" y="601" width="1" height="3" fill="#000"/><rect x="130" y="601" width="1" height="3" fill="#000"/><rect x="194" y="601" width="1" height="3" fill="#000"/><rect x="258" y="601" width="1" height="3" fill="#000"/><rect x="322" y="601" width="1" height="3" fill="#000"/><rect x="386" y="601" width="1" height="3" fill="#000"/><rect x="450" y="601" width="1" height="3" fill="#000"/><rect x="514" y="601" width="1" height="3" fill="#000"/><rect x="578" y="601" width="1" height="3" fill="#000"/><rect x="642" y="601" width="1" height="3" fill="#000"/><rect x="706" y="601" width="1" height="3" fill="#000"/><rect x="770" y="601" width="1" height="3" fill="#000"/><rect x="834" y="601" width="1" height="3" fill="#000"/><rect x="898" y="601" width="1" height="3" fill="#000"/><polygon points="981.7,62 967.8,73.8 970.6,75.6 960.6,98.3 950.2,122.5 967.4,98.3 977.2,79.4 981.2,81.4" fill="#ff3434" shape-rendering="auto"/><polygon points="926,25 935,25 930.5,30" fill="#000" shape-rendering="auto"/><polygon points="5,31 12,31 8.5,35" fill="#000" shape-rendering="auto"/><rect x="0" y="621" width="1204" height="1" fill="#e3e3e3"/><rect x="0" y="623" width="1204" height="1" fill="#000"/><rect x="0" y="625" width="1204" height="17" fill="#f0f0f0"/><rect x="0" y="644" width="1204" height="3" fill="#f0f0f0"/><rect x="319" y="623" width="108" height="19" fill="#fff"/><rect x="319" y="623" width="1" height="19" fill="#000"/><rect x="426" y="623" width="1" height="19" fill="#000"/><rect x="319" y="641" width="108" height="1" fill="#000"/><rect x="103" y="626" width="1" height="14" fill="#6d6d6d"/><rect x="211" y="626" width="1" height="14" fill="#6d6d6d"/><rect x="535" y="626" width="1" height="14" fill="#6d6d6d"/><rect x="647" y="626" width="1" height="14" fill="#6d6d6d"/><rect x="723" y="626" width="1" height="14" fill="#6d6d6d"/><rect x="816" y="626" width="1" height="14" fill="#6d6d6d"/><rect x="907" y="626" width="1" height="14" fill="#6d6d6d"/><rect x="999" y="626" width="1" height="14" fill="#6d6d6d"/><rect x="1107" y="626" width="1" height="14" fill="#6d6d6d"/><rect x="1176" y="624" width="28" height="18" fill="#f0f0f0"/><polygon points="1183,629 1183,635 1180,632" fill="#888" shape-rendering="auto"/><polygon points="1199,629 1199,635 1202,632" fill="#000" shape-rendering="auto"/></svg>
<div class="t" style="left:1170px;top:24.5px;font-size:9.5px;line-height:9.5px;letter-spacing:-0.3px;color:#000;">1.01060</div><div class="t" style="left:1170px;top:57.5px;font-size:9.5px;line-height:9.5px;letter-spacing:-0.3px;color:#000;">1.00320</div><div class="t" style="left:1170px;top:90.5px;font-size:9.5px;line-height:9.5px;letter-spacing:-0.3px;color:#000;">0.99580</div><div class="t" style="left:1170px;top:123.5px;font-size:9.5px;line-height:9.5px;letter-spacing:-0.3px;color:#000;">0.98840</div><div class="t" style="left:1170px;top:156.5px;font-size:9.5px;line-height:9.5px;letter-spacing:-0.3px;color:#000;">0.98100</div><div class="t" style="left:1170px;top:189.5px;font-size:9.5px;line-height:9.5px;letter-spacing:-0.3px;color:#000;">0.97360</div><div class="t" style="left:1170px;top:222.5px;font-size:9.5px;line-height:9.5px;letter-spacing:-0.3px;color:#000;">0.96620</div><div class="t" style="left:1170px;top:255.5px;font-size:9.5px;line-height:9.5px;letter-spacing:-0.3px;color:#000;">0.95880</div><div class="t" style="left:1170px;top:288.5px;font-size:9.5px;line-height:9.5px;letter-spacing:-0.3px;color:#000;">0.95140</div><div class="t" style="left:1170px;top:321.5px;font-size:9.5px;line-height:9.5px;letter-spacing:-0.3px;color:#000;">0.94400</div><div class="t" style="left:1170px;top:354.5px;font-size:9.5px;line-height:9.5px;letter-spacing:-0.3px;color:#000;">0.93660</div><div class="t" style="left:1170px;top:387.5px;font-size:9.5px;line-height:9.5px;letter-spacing:-0.3px;color:#000;">0.92920</div><div class="t" style="left:1170px;top:420.5px;font-size:9.5px;line-height:9.5px;letter-spacing:-0.3px;color:#000;">0.92200</div><div class="t" style="left:1170px;top:453.5px;font-size:9.5px;line-height:9.5px;letter-spacing:-0.3px;color:#000;">0.91460</div><div class="t" style="left:1170px;top:486.5px;font-size:9.5px;line-height:9.5px;letter-spacing:-0.3px;color:#000;">0.90720</div><div class="t" style="left:1168px;top:498.5px;font-size:9.5px;line-height:9.5px;letter-spacing:0px;color:#000;">0.015654</div><div class="t" style="left:1168px;top:525.5px;font-size:9.5px;line-height:9.5px;letter-spacing:0px;color:#000;">0.00</div><div class="t" style="left:1168px;top:533.5px;font-size:9.5px;line-height:9.5px;letter-spacing:0px;color:#000;">-0.00725</div><div class="t" style="left:1168px;top:549.5px;font-size:9.5px;line-height:9.5px;letter-spacing:0px;color:#000;">100</div><div class="t" style="left:1168px;top:559.5px;font-size:9.5px;line-height:9.5px;letter-spacing:0px;color:#000;">70</div><div class="t" style="left:1168px;top:579.5px;font-size:9.5px;line-height:9.5px;letter-spacing:0px;color:#000;">30</div><div class="t" style="left:1168px;top:588.5px;font-size:9.5px;line-height:9.5px;letter-spacing:0px;color:#000;">0</div><div class="t" style="left:6px;top:500.5px;font-size:9.5px;line-height:9.5px;letter-spacing:-0.08px;color:#000;">MACD(12,26,9) 0.005326 0.001409</div><div class="t" style="left:6px;top:552px;font-size:9.5px;line-height:9.5px;letter-spacing:-0.1px;color:#000;">RSI(14) 70.3758</div><div class="t" style="left:1170px;top:68.5px;font-size:9.5px;line-height:9.5px;letter-spacing:-0.3px;color:#fff;-webkit-text-stroke:0.1px currentColor;">1.00043</div><div class="t" style="left:1170px;top:106.5px;font-size:9.5px;line-height:9.5px;letter-spacing:-0.3px;color:#fff;-webkit-text-stroke:0.1px currentColor;">0.99218</div><div class="t" style="left:1170px;top:159.5px;font-size:9.5px;line-height:9.5px;letter-spacing:-0.3px;color:#fff;-webkit-text-stroke:0.1px currentColor;">0.98019</div><div class="t" style="left:1170px;top:247.5px;font-size:9.5px;line-height:9.5px;letter-spacing:-0.3px;color:#fff;-webkit-text-stroke:0.1px currentColor;">0.96043</div><div class="t" style="left:1170px;top:337.5px;font-size:9.5px;line-height:9.5px;letter-spacing:-0.3px;color:#fff;-webkit-text-stroke:0.1px currentColor;">0.94018</div><div class="t" style="left:1170px;top:428.5px;font-size:9.5px;line-height:9.5px;letter-spacing:-0.3px;color:#fff;-webkit-text-stroke:0.1px currentColor;">0.91993</div><div class="t" style="left:1px;top:604.5px;font-size:9.5px;line-height:9.5px;letter-spacing:-0.2px;color:#000;">2 Jan 2022</div><div class="t" style="left:65px;top:604.5px;font-size:9.5px;line-height:9.5px;letter-spacing:-0.2px;color:#000;">20 Jan 2022</div><div class="t" style="left:129px;top:604.5px;font-size:9.5px;line-height:9.5px;letter-spacing:-0.2px;color:#000;">8 Feb 2022</div><div class="t" style="left:193px;top:604.5px;font-size:9.5px;line-height:9.5px;letter-spacing:-0.2px;color:#000;">27 Feb 2022</div><div class="t" style="left:257px;top:604.5px;font-size:9.5px;line-height:9.5px;letter-spacing:-0.2px;color:#000;">17 Mar 2022</div><div class="t" style="left:321px;top:604.5px;font-size:9.5px;line-height:9.5px;letter-spacing:-0.2px;color:#000;">5 Apr 2022</div><div class="t" style="left:385px;top:604.5px;font-size:9.5px;line-height:9.5px;letter-spacing:-0.2px;color:#000;">24 Apr 2022</div><div class="t" style="left:449px;top:604.5px;font-size:9.5px;line-height:9.5px;letter-spacing:-0.2px;color:#000;">12 May 2022</div><div class="t" style="left:513px;top:604.5px;font-size:9.5px;line-height:9.5px;letter-spacing:-0.2px;color:#000;">31 May 2022</div><div class="t" style="left:577px;top:604.5px;font-size:9.5px;line-height:9.5px;letter-spacing:-0.2px;color:#000;">19 Jun 2022</div><div class="t" style="left:641px;top:604.5px;font-size:9.5px;line-height:9.5px;letter-spacing:-0.2px;color:#000;">7 Jul 2022</div><div class="t" style="left:705px;top:604.5px;font-size:9.5px;line-height:9.5px;letter-spacing:-0.2px;color:#000;">26 Jul 2022</div><div class="t" style="left:769px;top:604.5px;font-size:9.5px;line-height:9.5px;letter-spacing:-0.2px;color:#000;">14 Aug 2022</div><div class="t" style="left:833px;top:604.5px;font-size:9.5px;line-height:9.5px;letter-spacing:-0.2px;color:#000;">1 Sep 2022</div><div class="t" style="left:897px;top:604.5px;font-size:9.5px;line-height:9.5px;letter-spacing:-0.2px;color:#000;">20 Sep 2022</div><div class="t" style="left:17px;top:28px;font-size:9.5px;line-height:9.5px;letter-spacing:0.2px;color:#000;">USDCHF-,Daily</div><div class="t" style="left:91px;top:28px;font-size:9.5px;line-height:9.5px;letter-spacing:-0.16px;color:#000;">0.99206 0.99222 0.99186 0.99218</div><div class="t" style="left:-3px;top:3.5px;font-size:9.5px;line-height:9.5px;letter-spacing:-0.3px;color:#3a3a3a;-webkit-text-stroke:0;">5</div><div class="t" style="left:14px;top:3.5px;font-size:9.5px;line-height:9.5px;letter-spacing:-0.3px;color:#3a3a3a;-webkit-text-stroke:0;">M30</div><div class="t" style="left:44px;top:3.5px;font-size:9.5px;line-height:9.5px;letter-spacing:-0.3px;color:#3a3a3a;-webkit-text-stroke:0;">H1</div><div class="t" style="left:71px;top:3.5px;font-size:9.5px;line-height:9.5px;letter-spacing:-0.3px;color:#3a3a3a;-webkit-text-stroke:0;">H4</div><div class="t" style="left:101px;top:3.5px;font-size:9.5px;line-height:9.5px;letter-spacing:-0.3px;color:#3a3a3a;-webkit-text-stroke:0;">D1</div><div class="t" style="left:128px;top:3.5px;font-size:9.5px;line-height:9.5px;letter-spacing:-0.3px;color:#3a3a3a;-webkit-text-stroke:0;">W1</div><div class="t" style="left:155px;top:3.5px;font-size:9.5px;line-height:9.5px;letter-spacing:-0.3px;color:#3a3a3a;-webkit-text-stroke:0;">MN</div><div class="t" style="left:14.5px;top:628px;font-size:12px;line-height:12px;letter-spacing:0.2px;color:#6d6d6d;-webkit-text-stroke:0.1px currentColor;">USDX,Weekly</div><div class="t" style="left:114px;top:628px;font-size:12px;line-height:12px;letter-spacing:0.2px;color:#6d6d6d;-webkit-text-stroke:0.1px currentColor;">EURUSD-,Daily</div><div class="t" style="left:221px;top:628px;font-size:12px;line-height:12px;letter-spacing:0.2px;color:#6d6d6d;-webkit-text-stroke:0.1px currentColor;">AUDUSD-,Daily</div><div class="t" style="left:331.5px;top:628px;font-size:12px;line-height:12px;letter-spacing:0px;color:#000;-webkit-text-stroke:0.1px currentColor;">USDCHF-,Daily</div><div class="t" style="left:438px;top:628px;font-size:12px;line-height:12px;letter-spacing:0.2px;color:#6d6d6d;-webkit-text-stroke:0.1px currentColor;">USDCAD-,Daily</div><div class="t" style="left:547px;top:628px;font-size:12px;line-height:12px;letter-spacing:0.2px;color:#6d6d6d;-webkit-text-stroke:0.1px currentColor;">USDCNH-,Daily</div><div class="t" style="left:657px;top:628px;font-size:12px;line-height:12px;letter-spacing:0.2px;color:#6d6d6d;-webkit-text-stroke:0.1px currentColor;">HK50-,H1</div><div class="t" style="left:733px;top:628px;font-size:12px;line-height:12px;letter-spacing:0.2px;color:#6d6d6d;-webkit-text-stroke:0.1px currentColor;">EURCHF-,H1</div><div class="t" style="left:827px;top:628px;font-size:12px;line-height:12px;letter-spacing:0.2px;color:#6d6d6d;-webkit-text-stroke:0.1px currentColor;">USOil-,Daily</div><div class="t" style="left:918px;top:628px;font-size:12px;line-height:12px;letter-spacing:0.2px;color:#6d6d6d;-webkit-text-stroke:0.1px currentColor;">UKOil-,Daily</div><div class="t" style="left:1010px;top:628px;font-size:12px;line-height:12px;letter-spacing:0.2px;color:#6d6d6d;-webkit-text-stroke:0.1px currentColor;">XAUUSD-,Daily</div><div class="t" style="left:1118.5px;top:628px;font-size:12px;line-height:12px;letter-spacing:0.2px;color:#6d6d6d;-webkit-text-stroke:0.1px currentColor;">UKOil-,Da</div>
</body></html>
